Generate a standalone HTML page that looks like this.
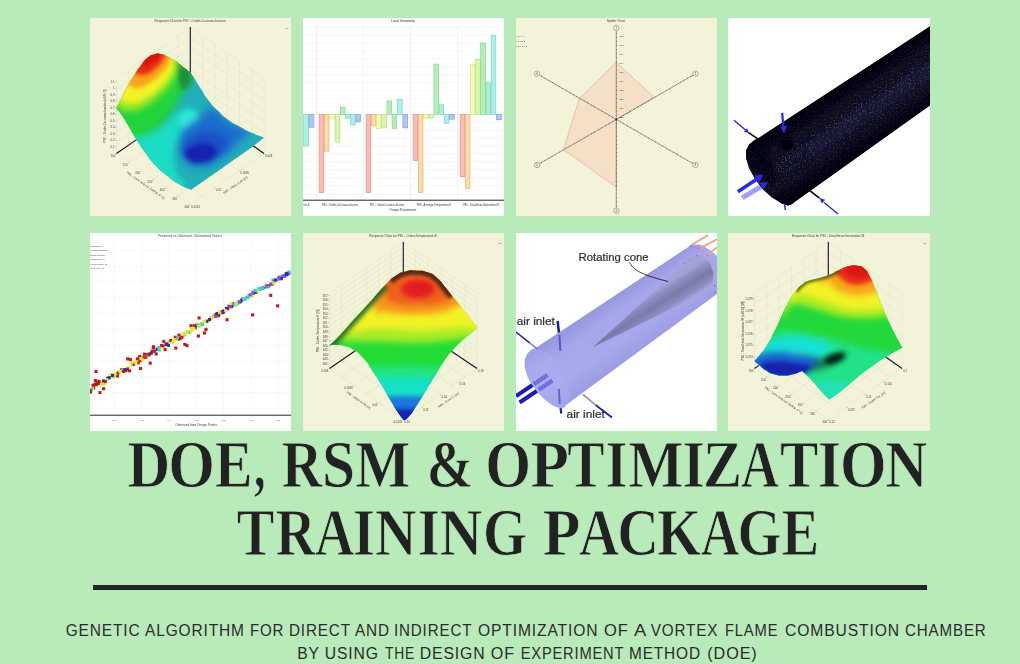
<!DOCTYPE html>
<html><head><meta charset="utf-8">
<style>
html,body{margin:0;padding:0}
body{width:1020px;height:664px;overflow:hidden;position:relative;background:#b9eab9;font-family:"Liberation Sans",sans-serif}
svg{position:absolute;display:block;overflow:hidden}
#main{left:0;top:0}
</style></head><body>
<svg style="left:90px;top:18px;background:#f3f3d9" width="201" height="198" viewBox="0 0 201 198">
<defs>
<clipPath id="c1"><path d="M26.4 90.2C27.8 87.5 27.1 88.9 30.5 82.2C33.9 75.6 32.1 78.2 36.5 70.2C40.9 62.2 38.9 65.8 43.7 58.1C48.6 50.5 46.1 53.6 51.0 47.3C55.8 41.0 53.8 43.0 58.2 39.3C62.6 35.7 60.2 37.6 64.2 36.5C68.2 35.3 66.2 35.5 70.2 36.0C74.3 36.5 71.8 36.0 76.3 37.9C80.7 39.8 78.3 38.4 83.5 41.8C88.7 45.1 86.3 43.8 91.9 48.0C97.6 52.3 97.6 52.4 100.4 54.5C102.0 56.9 101.6 56.1 105.2 61.8C108.8 67.4 106.8 64.6 111.2 71.4C115.6 78.2 112.8 75.0 118.4 82.2C124.1 89.5 121.6 86.7 128.1 93.1C134.5 99.5 130.5 96.3 137.7 101.5C144.9 106.7 141.7 104.3 149.8 108.7C157.8 113.2 153.6 111.2 161.8 114.8C170.0 118.4 170.2 118.0 174.3 119.6C169.4 123.4 170.8 122.6 159.4 130.9C148.0 139.2 153.0 135.3 140.1 144.4C127.3 153.5 133.9 149.0 120.8 158.1C107.8 167.3 107.7 167.3 101.1 171.9C97.2 170.1 97.4 171.2 89.5 166.6C81.6 162.0 85.5 164.6 77.5 158.1C69.4 151.7 72.7 154.9 65.4 147.3C58.2 139.7 62.2 144.1 55.8 135.3C49.4 126.4 52.2 130.4 46.1 120.8C40.1 111.2 42.5 114.4 37.7 106.3C32.9 98.3 35.5 102.1 31.7 96.7C27.9 91.3 28.2 92.4 26.4 90.2Z"/></clipPath>
<filter id="f1a" x="-50%" y="-50%" width="200%" height="200%"><feGaussianBlur stdDeviation="4.5"/></filter>
<filter id="f1b" x="-50%" y="-50%" width="200%" height="200%"><feGaussianBlur stdDeviation="3"/></filter>
<filter id="f1c" x="-50%" y="-50%" width="200%" height="200%"><feGaussianBlur stdDeviation="2.2"/></filter>
<filter id="f1d" x="-50%" y="-50%" width="200%" height="200%"><feGaussianBlur stdDeviation="1.5"/></filter>
<filter id="b1" x="-5%" y="-5%" width="110%" height="110%"><feGaussianBlur stdDeviation="0.35"/></filter>
</defs>
<g filter="url(#b1)">
<line x1="88.0" y1="17.5" x2="88.0" y2="92.8" stroke="#d6d6c2" stroke-width="0.35"/>
<line x1="112.6" y1="17.5" x2="112.6" y2="92.8" stroke="#d6d6c2" stroke-width="0.35"/>
<line x1="88.0" y1="92.8" x2="161.8" y2="144.0" stroke="#d6d6c2" stroke-width="0.35"/>
<line x1="112.6" y1="92.8" x2="38.8" y2="144.0" stroke="#d6d6c2" stroke-width="0.35"/>
<line x1="75.7" y1="26.1" x2="75.7" y2="101.4" stroke="#d6d6c2" stroke-width="0.35"/>
<line x1="124.9" y1="26.1" x2="124.9" y2="101.4" stroke="#d6d6c2" stroke-width="0.35"/>
<line x1="75.7" y1="101.4" x2="149.5" y2="152.6" stroke="#d6d6c2" stroke-width="0.35"/>
<line x1="124.9" y1="101.4" x2="51.1" y2="152.6" stroke="#d6d6c2" stroke-width="0.35"/>
<line x1="63.4" y1="34.6" x2="63.4" y2="109.9" stroke="#d6d6c2" stroke-width="0.35"/>
<line x1="137.2" y1="34.6" x2="137.2" y2="109.9" stroke="#d6d6c2" stroke-width="0.35"/>
<line x1="63.4" y1="109.9" x2="137.2" y2="161.1" stroke="#d6d6c2" stroke-width="0.35"/>
<line x1="137.2" y1="109.9" x2="63.4" y2="161.1" stroke="#d6d6c2" stroke-width="0.35"/>
<line x1="51.1" y1="43.1" x2="51.1" y2="118.4" stroke="#d6d6c2" stroke-width="0.35"/>
<line x1="149.5" y1="43.1" x2="149.5" y2="118.4" stroke="#d6d6c2" stroke-width="0.35"/>
<line x1="51.1" y1="118.4" x2="124.9" y2="169.6" stroke="#d6d6c2" stroke-width="0.35"/>
<line x1="149.5" y1="118.4" x2="75.7" y2="169.6" stroke="#d6d6c2" stroke-width="0.35"/>
<line x1="38.8" y1="51.7" x2="38.8" y2="127.0" stroke="#d6d6c2" stroke-width="0.35"/>
<line x1="161.8" y1="51.7" x2="161.8" y2="127.0" stroke="#d6d6c2" stroke-width="0.35"/>
<line x1="38.8" y1="127.0" x2="112.6" y2="178.2" stroke="#d6d6c2" stroke-width="0.35"/>
<line x1="161.8" y1="127.0" x2="88.0" y2="178.2" stroke="#d6d6c2" stroke-width="0.35"/>
<line x1="26.5" y1="60.2" x2="26.5" y2="135.5" stroke="#d6d6c2" stroke-width="0.35"/>
<line x1="174.1" y1="60.2" x2="174.1" y2="135.5" stroke="#d6d6c2" stroke-width="0.35"/>
<line x1="26.5" y1="135.5" x2="100.3" y2="186.7" stroke="#d6d6c2" stroke-width="0.35"/>
<line x1="174.1" y1="135.5" x2="100.3" y2="186.7" stroke="#d6d6c2" stroke-width="0.35"/>
<line x1="100.3" y1="9.0" x2="26.5" y2="60.2" stroke="#d6d6c2" stroke-width="0.35"/>
<line x1="100.3" y1="9.0" x2="174.1" y2="60.2" stroke="#d6d6c2" stroke-width="0.35"/>
<line x1="100.3" y1="19.8" x2="26.5" y2="71.0" stroke="#d6d6c2" stroke-width="0.35"/>
<line x1="100.3" y1="19.8" x2="174.1" y2="71.0" stroke="#d6d6c2" stroke-width="0.35"/>
<line x1="100.3" y1="30.5" x2="26.5" y2="81.7" stroke="#d6d6c2" stroke-width="0.35"/>
<line x1="100.3" y1="30.5" x2="174.1" y2="81.7" stroke="#d6d6c2" stroke-width="0.35"/>
<line x1="100.3" y1="41.3" x2="26.5" y2="92.5" stroke="#d6d6c2" stroke-width="0.35"/>
<line x1="100.3" y1="41.3" x2="174.1" y2="92.5" stroke="#d6d6c2" stroke-width="0.35"/>
<line x1="100.3" y1="52.0" x2="26.5" y2="103.2" stroke="#d6d6c2" stroke-width="0.35"/>
<line x1="100.3" y1="52.0" x2="174.1" y2="103.2" stroke="#d6d6c2" stroke-width="0.35"/>
<line x1="100.3" y1="62.8" x2="26.5" y2="114.0" stroke="#d6d6c2" stroke-width="0.35"/>
<line x1="100.3" y1="62.8" x2="174.1" y2="114.0" stroke="#d6d6c2" stroke-width="0.35"/>
<line x1="100.3" y1="73.5" x2="26.5" y2="124.7" stroke="#d6d6c2" stroke-width="0.35"/>
<line x1="100.3" y1="73.5" x2="174.1" y2="124.7" stroke="#d6d6c2" stroke-width="0.35"/>
<line x1="100.3" y1="84.3" x2="26.5" y2="135.5" stroke="#d6d6c2" stroke-width="0.35"/>
<line x1="100.3" y1="84.3" x2="174.1" y2="135.5" stroke="#d6d6c2" stroke-width="0.35"/>
<line x1="100.3" y1="9.0" x2="100.3" y2="55.0" stroke="#14142a" stroke-width="1.1"/>
<line x1="26.5" y1="135.5" x2="48.0" y2="120.6" stroke="#14142a" stroke-width="1.1"/>
<line x1="174.0" y1="135.5" x2="162.0" y2="127.0" stroke="#14142a" stroke-width="1.1"/>
<g clip-path="url(#c1)">
<rect x="0" y="0" width="201" height="198" fill="#22aeb8"/>
<path d="M34.1 113.6C40.5 107.1 44.5 114.4 58.2 111.2C71.8 107.9 64.6 110.4 75.1 103.9C85.5 97.5 80.3 96.3 89.5 91.9C98.8 87.5 96.7 87.5 102.8 90.7C108.8 93.9 109.6 93.5 107.6 101.5C105.6 109.6 104.0 105.1 96.7 114.8C89.5 124.4 89.5 118.0 85.9 130.4C82.3 142.9 83.1 139.3 85.9 152.1C88.7 165.0 99.6 164.2 94.3 169.0C89.1 173.8 88.7 179.4 70.2 166.6C51.8 153.7 51.0 148.1 38.9 130.4C26.9 112.8 27.7 120.0 34.1 113.6Z" fill="#1fdcc6" filter="url(#f1b)" opacity="1"/>
<path d="M90.7 99.1C92.7 94.7 92.7 95.1 98.0 94.3C103.2 93.5 103.2 93.1 106.4 96.7C109.6 100.3 109.6 100.7 107.6 105.1C105.6 109.6 105.6 109.1 100.4 110.0C95.1 110.8 95.1 111.2 91.9 107.5C88.7 103.9 88.7 103.5 90.7 99.1Z" fill="#34e6da" filter="url(#f1c)" opacity="1"/>
<path d="M90.7 120.8C91.9 110.4 91.1 116.0 98.0 108.7C104.8 101.5 104.4 105.1 111.2 99.1C118.0 93.1 112.8 92.3 118.4 90.7C124.1 89.1 120.8 89.5 128.1 94.3C135.3 99.1 130.5 98.7 140.1 105.1C149.8 111.6 154.6 106.7 157.0 113.6C159.4 120.4 156.6 116.4 147.3 125.6C138.1 134.9 141.7 133.6 129.3 141.3C116.8 148.9 121.6 148.9 110.0 148.5C98.4 148.1 100.8 149.3 94.3 140.1C87.9 130.8 89.5 131.2 90.7 120.8Z" fill="#1e6ccc" filter="url(#f1a)" opacity="1"/>
<path d="M94.3 128.0C97.1 121.6 95.9 123.2 104.0 118.4C112.0 113.6 108.8 113.6 118.4 113.6C128.1 113.6 127.3 113.6 132.9 118.4C138.5 123.2 138.5 120.8 135.3 128.0C132.1 135.3 132.9 134.9 123.3 140.1C113.6 145.3 115.6 144.5 106.4 143.7C97.1 142.9 99.6 142.9 95.5 137.7C91.5 132.4 91.5 134.4 94.3 128.0Z" fill="#1c50c4" filter="url(#f1b)" opacity="1"/>
<path d="M96.3 134.8C97.3 130.3 96.6 130.9 102.8 128.0C109.0 125.1 107.3 125.1 114.8 126.1C122.3 127.1 122.5 126.4 125.2 130.9C127.8 135.4 127.6 135.3 122.8 139.6C118.0 143.8 118.4 143.0 110.7 143.7C103.0 144.3 104.5 144.5 99.6 141.5C94.8 138.5 95.2 139.3 96.3 134.8Z" fill="#1424ae" filter="url(#f1c)" opacity="1"/>
<path d="M14.8 82.2C7.6 115.2 15.2 113.2 24.5 125.6C33.7 138.1 31.3 123.0 42.5 119.6C53.8 116.2 48.6 119.9 58.2 115.5C67.8 111.1 63.8 113.4 71.4 106.3C79.1 99.3 75.5 102.3 81.1 94.3C86.7 86.3 83.7 90.3 88.3 82.2C92.9 74.2 90.7 78.2 94.8 70.2C98.9 62.2 97.1 67.0 100.6 58.1C104.1 49.3 111.3 54.1 105.2 43.7C99.1 33.2 102.0 32.4 82.3 26.8C62.6 21.2 68.6 8.3 46.1 26.8C23.7 45.3 22.0 49.3 14.8 82.2Z" fill="#22d43a" filter="url(#f1a)" opacity="1"/>
<path d="M14.8 82.2C7.6 112.8 15.6 107.5 24.5 118.4C33.3 129.2 30.9 117.6 41.3 114.8C51.8 112.0 46.9 114.8 55.8 110.0C64.6 105.1 60.6 107.1 67.8 100.3C75.1 93.5 71.8 97.1 77.5 89.5C83.1 81.8 79.9 85.1 84.7 77.4C89.5 69.8 87.5 73.8 91.9 66.6C96.3 59.3 94.7 63.4 98.0 55.7C101.2 48.1 106.8 53.3 101.6 43.7C96.3 34.0 100.8 32.4 82.3 26.8C63.8 21.2 68.6 8.3 46.1 26.8C23.7 45.3 22.0 51.7 14.8 82.2Z" fill="#22d43a" filter="url(#f1c)" opacity="1"/>
<path d="M86.6 44.9C88.6 40.7 89.5 44.4 94.3 48.0C99.2 51.6 99.3 49.6 101.1 55.7C102.9 61.9 102.3 61.4 99.6 66.6C97.0 71.8 96.9 73.4 93.1 71.4C89.4 69.4 90.5 69.4 88.3 60.6C86.1 51.7 84.6 49.1 86.6 44.9Z" fill="#1e9238" filter="url(#f1c)" opacity="1"/>
<path d="M19.6 79.8C16.0 97.3 20.8 84.8 28.1 89.0C35.3 93.2 32.1 92.8 41.3 92.4C50.6 91.9 46.1 92.8 55.8 87.5C65.4 82.2 61.8 84.2 70.2 76.5C78.7 68.7 75.6 72.5 81.1 64.4C86.5 56.3 85.0 60.6 86.6 52.1C88.2 43.6 91.4 47.3 85.9 38.9C80.4 30.4 85.9 27.6 70.2 26.8C54.6 26.0 55.8 18.8 38.9 36.5C22.0 54.1 23.3 62.3 19.6 79.8Z" fill="#a4ea28" filter="url(#f1b)" opacity="1"/>
<path d="M24.5 75.0C23.7 85.3 25.3 78.7 31.7 81.8C38.1 84.8 35.3 85.1 43.7 84.2C52.2 83.2 48.6 83.7 57.0 78.9C65.4 74.0 61.8 76.5 69.0 69.7C76.3 63.0 74.0 66.1 78.7 58.6C83.3 51.2 82.6 55.5 83.0 47.3C83.4 39.1 88.2 40.1 79.9 34.0C71.6 28.0 73.5 23.6 58.2 29.2C42.9 34.9 45.3 35.7 34.1 50.9C22.9 66.2 25.3 64.7 24.5 75.0Z" fill="#f2f226" filter="url(#f1c)" opacity="1"/>
<path d="M34.1 63.0C33.7 70.2 34.9 65.5 40.1 67.8C45.3 70.0 42.8 71.1 49.8 69.7C56.7 68.3 53.9 68.5 61.1 63.7C68.3 58.9 65.6 61.4 71.4 55.3C77.3 49.1 76.7 52.4 78.7 45.4C80.7 38.3 84.3 39.4 77.5 34.0C70.6 28.7 70.2 25.2 58.2 29.2C46.1 33.2 49.4 34.9 41.3 46.1C33.3 57.3 34.5 55.7 34.1 63.0Z" fill="#f8a41e" filter="url(#f1c)" opacity="1"/>
<path d="M43.7 53.3C44.9 57.6 45.3 55.6 49.8 56.5C54.2 57.3 51.4 58.4 57.0 56.0C62.6 53.6 61.2 54.1 66.6 49.2C72.0 44.3 70.7 46.7 73.1 41.3C75.5 35.8 78.8 36.5 73.9 32.8C68.9 29.2 67.4 26.8 58.2 30.4C49.0 34.0 51.0 36.1 46.1 43.7C41.3 51.3 42.5 49.1 43.7 53.3Z" fill="#ea2a18" filter="url(#f1c)" opacity="1"/>
<path d="M53.4 48.0C54.6 51.1 56.6 48.5 61.8 45.6C67.0 42.7 67.0 43.2 69.0 39.3C71.0 35.5 71.4 35.0 67.8 34.0C64.2 33.1 63.0 31.8 58.2 36.5C53.4 41.1 52.2 45.0 53.4 48.0Z" fill="#d81410" filter="url(#f1d)" opacity="1"/>
</g>
<g style="font-family:'Liberation Sans'" fill="#3c3c3c">
<text x="100" y="4" font-size="3.2" text-anchor="middle">Response Chart for P87 - Outlet-Co-mass-fraction</text>
<text x="195.5" y="10.5" font-size="2.4">P8</text>
<text x="24.5" y="64.5" font-size="2.9" text-anchor="end">1.1</text>
<line x1="25.2" x2="26.5" y1="63.5" y2="63.5" stroke="#666" stroke-width="0.3"/>
<text x="24.5" y="71.0" font-size="2.9" text-anchor="end">1</text>
<line x1="25.2" x2="26.5" y1="70.0" y2="70.0" stroke="#666" stroke-width="0.3"/>
<text x="24.5" y="77.6" font-size="2.9" text-anchor="end">0.9</text>
<line x1="25.2" x2="26.5" y1="76.6" y2="76.6" stroke="#666" stroke-width="0.3"/>
<text x="24.5" y="84.1" font-size="2.9" text-anchor="end">0.8</text>
<line x1="25.2" x2="26.5" y1="83.1" y2="83.1" stroke="#666" stroke-width="0.3"/>
<text x="24.5" y="90.7" font-size="2.9" text-anchor="end">0.7</text>
<line x1="25.2" x2="26.5" y1="89.7" y2="89.7" stroke="#666" stroke-width="0.3"/>
<text x="24.5" y="97.2" font-size="2.9" text-anchor="end">0.6</text>
<line x1="25.2" x2="26.5" y1="96.2" y2="96.2" stroke="#666" stroke-width="0.3"/>
<text x="24.5" y="103.8" font-size="2.9" text-anchor="end">0.5</text>
<line x1="25.2" x2="26.5" y1="102.8" y2="102.8" stroke="#666" stroke-width="0.3"/>
<text x="24.5" y="110.3" font-size="2.9" text-anchor="end">0.4</text>
<line x1="25.2" x2="26.5" y1="109.3" y2="109.3" stroke="#666" stroke-width="0.3"/>
<text x="24.5" y="116.9" font-size="2.9" text-anchor="end">0.3</text>
<line x1="25.2" x2="26.5" y1="115.9" y2="115.9" stroke="#666" stroke-width="0.3"/>
<text x="24.5" y="123.4" font-size="2.9" text-anchor="end">0.2</text>
<line x1="25.2" x2="26.5" y1="122.4" y2="122.4" stroke="#666" stroke-width="0.3"/>
<text x="24.5" y="130.0" font-size="2.9" text-anchor="end">0.1</text>
<line x1="25.2" x2="26.5" y1="129.0" y2="129.0" stroke="#666" stroke-width="0.3"/>
<text transform="translate(15.5,98) rotate(-90)" font-size="3.1" text-anchor="middle">P87 - Outlet-Co-mass-fraction [x10^-7]</text>
<text x="25.3" y="139.1" font-size="2.8" text-anchor="end">100</text>
<line x1="26.5" y1="135.5" x2="25.5" y2="136.7" stroke="#666" stroke-width="0.3"/>
<text x="37.6" y="147.6" font-size="2.8" text-anchor="end">150</text>
<line x1="38.8" y1="144.0" x2="37.8" y2="145.2" stroke="#666" stroke-width="0.3"/>
<text x="49.9" y="156.2" font-size="2.8" text-anchor="end">200</text>
<line x1="51.1" y1="152.6" x2="50.1" y2="153.8" stroke="#666" stroke-width="0.3"/>
<text x="62.2" y="164.7" font-size="2.8" text-anchor="end">250</text>
<line x1="63.4" y1="161.1" x2="62.4" y2="162.3" stroke="#666" stroke-width="0.3"/>
<text x="74.5" y="173.2" font-size="2.8" text-anchor="end">300</text>
<line x1="75.7" y1="169.6" x2="74.7" y2="170.8" stroke="#666" stroke-width="0.3"/>
<text x="86.8" y="181.8" font-size="2.8" text-anchor="end">350</text>
<line x1="88.0" y1="178.2" x2="87.0" y2="179.4" stroke="#666" stroke-width="0.3"/>
<text x="99.1" y="190.3" font-size="2.8" text-anchor="end">400</text>
<line x1="100.3" y1="186.7" x2="99.3" y2="187.9" stroke="#666" stroke-width="0.3"/>
<text transform="translate(55,168) rotate(34.8)" font-size="3.1" text-anchor="middle">P81 - Cone Ang.vel. [radian s^-1]</text>
<text x="175.2" y="139.1" font-size="2.8">0.008</text>
<line x1="174.0" y1="135.5" x2="175.0" y2="136.7" stroke="#666" stroke-width="0.3"/>
<text x="150.6" y="156.2" font-size="2.8">0.0095</text>
<line x1="149.4" y1="152.6" x2="150.4" y2="153.8" stroke="#666" stroke-width="0.3"/>
<text x="126.0" y="173.2" font-size="2.8">0.01</text>
<line x1="124.8" y1="169.6" x2="125.8" y2="170.8" stroke="#666" stroke-width="0.3"/>
<text x="101.4" y="190.3" font-size="2.8">0.0105</text>
<line x1="100.2" y1="186.7" x2="101.2" y2="187.9" stroke="#666" stroke-width="0.3"/>
<text transform="translate(146,168) rotate(-34.8)" font-size="3.1" text-anchor="middle">P86 - offset in Air [m]</text>
</g>
</g>
</svg>
<svg style="left:303px;top:18px;background:#fff" width="201" height="198" viewBox="0 0 201 198">
<defs><filter id="b2" x="-5%" y="-5%" width="110%" height="110%"><feGaussianBlur stdDeviation="0.35"/></filter></defs>
<g filter="url(#b2)">
<line x1="0" x2="201" y1="9.04" y2="9.04" stroke="#e4e4e4" stroke-width="0.35"/>
<line x1="0" x2="201" y1="16.98" y2="16.98" stroke="#e4e4e4" stroke-width="0.35"/>
<line x1="0" x2="201" y1="24.92" y2="24.92" stroke="#e4e4e4" stroke-width="0.35"/>
<line x1="0" x2="201" y1="32.86" y2="32.86" stroke="#e4e4e4" stroke-width="0.35"/>
<line x1="0" x2="201" y1="40.80" y2="40.80" stroke="#e4e4e4" stroke-width="0.35"/>
<line x1="0" x2="201" y1="48.73" y2="48.73" stroke="#e4e4e4" stroke-width="0.35"/>
<line x1="0" x2="201" y1="56.67" y2="56.67" stroke="#e4e4e4" stroke-width="0.35"/>
<line x1="0" x2="201" y1="64.61" y2="64.61" stroke="#e4e4e4" stroke-width="0.35"/>
<line x1="0" x2="201" y1="72.55" y2="72.55" stroke="#e4e4e4" stroke-width="0.35"/>
<line x1="0" x2="201" y1="80.49" y2="80.49" stroke="#e4e4e4" stroke-width="0.35"/>
<line x1="0" x2="201" y1="88.43" y2="88.43" stroke="#e4e4e4" stroke-width="0.35"/>
<line x1="0" x2="201" y1="96.37" y2="96.37" stroke="#e4e4e4" stroke-width="0.35"/>
<line x1="0" x2="201" y1="104.31" y2="104.31" stroke="#e4e4e4" stroke-width="0.35"/>
<line x1="0" x2="201" y1="112.25" y2="112.25" stroke="#e4e4e4" stroke-width="0.35"/>
<line x1="0" x2="201" y1="120.19" y2="120.19" stroke="#e4e4e4" stroke-width="0.35"/>
<line x1="0" x2="201" y1="128.13" y2="128.13" stroke="#e4e4e4" stroke-width="0.35"/>
<line x1="0" x2="201" y1="136.07" y2="136.07" stroke="#e4e4e4" stroke-width="0.35"/>
<line x1="0" x2="201" y1="144.01" y2="144.01" stroke="#e4e4e4" stroke-width="0.35"/>
<line x1="0" x2="201" y1="151.95" y2="151.95" stroke="#e4e4e4" stroke-width="0.35"/>
<line x1="0" x2="201" y1="159.89" y2="159.89" stroke="#e4e4e4" stroke-width="0.35"/>
<line x1="0" x2="201" y1="167.83" y2="167.83" stroke="#e4e4e4" stroke-width="0.35"/>
<line x1="0" x2="201" y1="175.77" y2="175.77" stroke="#e4e4e4" stroke-width="0.35"/>
<line x1="13.55" x2="13.55" y1="8" y2="182" stroke="#dcdcdc" stroke-width="0.4"/>
<line x1="60.24" x2="60.24" y1="8" y2="182" stroke="#dcdcdc" stroke-width="0.4"/>
<line x1="107.53" x2="107.53" y1="8" y2="182" stroke="#dcdcdc" stroke-width="0.4"/>
<line x1="154.52" x2="154.52" y1="8" y2="182" stroke="#dcdcdc" stroke-width="0.4"/>
<rect x="0.20" y="96.39" width="5.32" height="31.63" fill="#acefe6" stroke="#6ad0c6" stroke-width="0.55"/>
<rect x="5.92" y="96.39" width="5.02" height="12.95" fill="#b0c6f1" stroke="#7292de" stroke-width="0.55"/>
<rect x="16.16" y="96.39" width="4.72" height="78.31" fill="#f7bcb2" stroke="#dc8878" stroke-width="0.55"/>
<rect x="21.28" y="96.39" width="4.72" height="36.75" fill="#f9dbac" stroke="#dfa868" stroke-width="0.55"/>
<rect x="26.40" y="96.39" width="5.32" height="4.52" fill="#f7f7ae" stroke="#d8d878" stroke-width="0.55"/>
<rect x="32.13" y="96.39" width="4.72" height="27.71" fill="#daf5ae" stroke="#a8d878" stroke-width="0.55"/>
<rect x="37.25" y="89.16" width="4.72" height="7.23" fill="#b2efb4" stroke="#78d088" stroke-width="0.55"/>
<rect x="42.37" y="96.39" width="4.72" height="3.92" fill="#aeefd0" stroke="#72d0a6" stroke-width="0.55"/>
<rect x="47.49" y="96.39" width="4.72" height="10.54" fill="#acefe6" stroke="#6ad0c6" stroke-width="0.55"/>
<rect x="52.91" y="96.39" width="4.72" height="7.53" fill="#b0c6f1" stroke="#7292de" stroke-width="0.55"/>
<rect x="63.15" y="96.39" width="4.72" height="78.31" fill="#f7bcb2" stroke="#dc8878" stroke-width="0.55"/>
<rect x="68.27" y="96.39" width="4.72" height="11.45" fill="#f9dbac" stroke="#dfa868" stroke-width="0.55"/>
<rect x="73.39" y="96.39" width="4.72" height="14.16" fill="#f7f7ae" stroke="#d8d878" stroke-width="0.55"/>
<rect x="78.51" y="96.39" width="5.02" height="13.55" fill="#daf5ae" stroke="#a8d878" stroke-width="0.55"/>
<rect x="83.93" y="82.83" width="4.72" height="13.55" fill="#b2efb4" stroke="#78d088" stroke-width="0.55"/>
<rect x="89.06" y="96.39" width="4.72" height="14.16" fill="#b2efb4" stroke="#78d088" stroke-width="0.55"/>
<rect x="94.18" y="81.33" width="5.02" height="15.06" fill="#acefe6" stroke="#6ad0c6" stroke-width="0.55"/>
<rect x="99.90" y="96.39" width="4.72" height="13.55" fill="#b0c6f1" stroke="#7292de" stroke-width="0.55"/>
<rect x="110.14" y="96.39" width="4.72" height="46.08" fill="#f7bcb2" stroke="#dc8878" stroke-width="0.55"/>
<rect x="115.26" y="96.39" width="4.72" height="78.31" fill="#f9dbac" stroke="#dfa868" stroke-width="0.55"/>
<rect x="120.38" y="96.39" width="5.02" height="3.92" fill="#f7f7ae" stroke="#d8d878" stroke-width="0.55"/>
<rect x="125.80" y="96.39" width="4.72" height="3.61" fill="#daf5ae" stroke="#a8d878" stroke-width="0.55"/>
<rect x="130.92" y="46.08" width="4.72" height="50.30" fill="#b2efb4" stroke="#78d088" stroke-width="0.55"/>
<rect x="136.04" y="86.75" width="4.72" height="9.64" fill="#aeefd0" stroke="#72d0a6" stroke-width="0.55"/>
<rect x="141.16" y="96.39" width="4.72" height="9.04" fill="#acefe6" stroke="#6ad0c6" stroke-width="0.55"/>
<rect x="146.59" y="96.39" width="4.72" height="4.82" fill="#b0c6f1" stroke="#7292de" stroke-width="0.55"/>
<rect x="157.13" y="96.39" width="4.72" height="62.35" fill="#f7bcb2" stroke="#dc8878" stroke-width="0.55"/>
<rect x="162.25" y="96.39" width="4.72" height="74.10" fill="#f9dbac" stroke="#dfa868" stroke-width="0.55"/>
<rect x="167.37" y="46.08" width="4.72" height="50.30" fill="#f7f7ae" stroke="#d8d878" stroke-width="0.55"/>
<rect x="172.49" y="41.27" width="4.72" height="55.12" fill="#daf5ae" stroke="#a8d878" stroke-width="0.55"/>
<rect x="177.61" y="25.00" width="5.02" height="71.39" fill="#b2efb4" stroke="#78d088" stroke-width="0.55"/>
<rect x="183.03" y="64.16" width="4.72" height="32.23" fill="#aeefd0" stroke="#72d0a6" stroke-width="0.55"/>
<rect x="188.15" y="17.17" width="4.72" height="79.22" fill="#acefe6" stroke="#6ad0c6" stroke-width="0.55"/>
<rect x="193.57" y="96.39" width="4.72" height="5.42" fill="#b0c6f1" stroke="#7292de" stroke-width="0.55"/>
<rect x="0" y="181.6" width="201" height="1.3" fill="#5a5a5a"/>
<g font-family="Liberation Sans" fill="#333" text-anchor="middle">
<text x="100" y="4.2" font-size="3.3">Local Sensitivity</text>
<text x="100" y="192.6" font-size="3.2">Output Parameters</text>
<text x="3" y="187.6" font-size="2.6">ture-K</text>
<text x="37" y="187.6" font-size="2.6">P84 - Outlet-Co2-mass-fraction</text>
<text x="84" y="187.6" font-size="2.6">P87 - Outlet-Co-mass-fraction</text>
<text x="131" y="187.6" font-size="2.6">P88 - Average-Temperature-K</text>
<text x="178" y="187.6" font-size="2.6">P85 - Total-Heat-Generation-W</text>
</g></g>
</svg>
<svg style="left:516px;top:18px;background:#f3f3d9" width="201" height="198" viewBox="0 0 201 198">
<defs><filter id="b3" x="-5%" y="-5%" width="110%" height="110%"><feGaussianBlur stdDeviation="0.3"/></filter></defs>
<g filter="url(#b3)">
<polygon points="100.30,44.28 137.95,79.22 100.30,101.51 100.30,169.28 47.59,131.63 63.25,80.72" fill="#f4e0c6" stroke="#d9938c" stroke-width="0.5"/>
<line x1="100.30" y1="101.51" x2="100.30" y2="12.65" stroke="#3a3030" stroke-width="0.45"/>
<line x1="100.30" y1="101.51" x2="100.30" y2="12.65" stroke="#222" stroke-width="0.9" stroke-dasharray="0.5 3.6"/>
<circle cx="100.30" cy="9.94" r="2.7" fill="#f3f3d9" stroke="#444" stroke-width="0.4"/>
<text x="100.30" y="10.84" font-size="2.6" text-anchor="middle" fill="#333" style="font-family:'Liberation Sans'">1</text>
<line x1="100.30" y1="101.51" x2="177.17" y2="57.08" stroke="#3a3030" stroke-width="0.45"/>
<line x1="100.30" y1="101.51" x2="177.17" y2="57.08" stroke="#222" stroke-width="0.9" stroke-dasharray="0.5 3.6"/>
<circle cx="179.52" cy="55.72" r="2.7" fill="#f3f3d9" stroke="#444" stroke-width="0.4"/>
<text x="179.52" y="56.62" font-size="2.6" text-anchor="middle" fill="#333" style="font-family:'Liberation Sans'">2</text>
<line x1="100.30" y1="101.51" x2="177.17" y2="145.64" stroke="#3a3030" stroke-width="0.45"/>
<line x1="100.30" y1="101.51" x2="177.17" y2="145.64" stroke="#222" stroke-width="0.9" stroke-dasharray="0.5 3.6"/>
<circle cx="179.52" cy="146.99" r="2.7" fill="#f3f3d9" stroke="#444" stroke-width="0.4"/>
<text x="179.52" y="147.89" font-size="2.6" text-anchor="middle" fill="#333" style="font-family:'Liberation Sans'">3</text>
<line x1="100.30" y1="101.51" x2="100.30" y2="190.06" stroke="#3a3030" stroke-width="0.45"/>
<line x1="100.30" y1="101.51" x2="100.30" y2="190.06" stroke="#222" stroke-width="0.9" stroke-dasharray="0.5 3.6"/>
<circle cx="100.30" cy="192.77" r="2.7" fill="#f3f3d9" stroke="#444" stroke-width="0.4"/>
<text x="100.30" y="193.67" font-size="2.6" text-anchor="middle" fill="#333" style="font-family:'Liberation Sans'">4</text>
<line x1="100.30" y1="101.51" x2="23.44" y2="145.64" stroke="#3a3030" stroke-width="0.45"/>
<line x1="100.30" y1="101.51" x2="23.44" y2="145.64" stroke="#222" stroke-width="0.9" stroke-dasharray="0.5 3.6"/>
<circle cx="21.08" cy="146.99" r="2.7" fill="#f3f3d9" stroke="#444" stroke-width="0.4"/>
<text x="21.08" y="147.89" font-size="2.6" text-anchor="middle" fill="#333" style="font-family:'Liberation Sans'">5</text>
<line x1="100.30" y1="101.51" x2="23.43" y2="57.08" stroke="#3a3030" stroke-width="0.45"/>
<line x1="100.30" y1="101.51" x2="23.43" y2="57.08" stroke="#222" stroke-width="0.9" stroke-dasharray="0.5 3.6"/>
<circle cx="21.08" cy="55.72" r="2.7" fill="#f3f3d9" stroke="#444" stroke-width="0.4"/>
<text x="21.08" y="56.62" font-size="2.6" text-anchor="middle" fill="#333" style="font-family:'Liberation Sans'">6</text>
<circle cx="100.30" cy="101.51" r="1" fill="#402020"/>
<g style="font-family:'Liberation Sans'" fill="#444">
<text x="100" y="3.8" font-size="3.3" text-anchor="middle">Spider Chart</text>
<text x="103.5" y="18.87" font-size="2.4">370</text>
<text x="103.5" y="27.91" font-size="2.4">368</text>
<text x="103.5" y="36.94" font-size="2.4">366</text>
<text x="103.5" y="45.98" font-size="2.4">364</text>
<text x="103.5" y="55.02" font-size="2.4">362</text>
<text x="103.5" y="64.05" font-size="2.4">360</text>
<text x="103.5" y="73.09" font-size="2.4">358</text>
<text x="103.5" y="82.13" font-size="2.4">356</text>
<text x="103.5" y="91.16" font-size="2.4">354</text>
<text x="103.5" y="100.20" font-size="2.4">352</text>
<text x="0" y="19.47" font-size="2.4">x 10^-3</text>
<text x="0" y="24.14" font-size="2.4">7 x 10^3</text>
<text x="0" y="28.81" font-size="2.4">7.5 x 10^3</text>
</g></g>
</svg>
<svg style="left:728px;top:18px;background:#fff" width="202" height="198" viewBox="0 0 202 198">
<defs>
<linearGradient id="g4" gradientUnits="userSpaceOnUse" x1="90" y1="80" x2="130" y2="140">
<stop offset="0" stop-color="#04030c"/><stop offset="0.2" stop-color="#0b0a1c"/><stop offset="0.5" stop-color="#131128"/><stop offset="0.8" stop-color="#0c0b1e"/><stop offset="1" stop-color="#04030c"/></linearGradient>
<linearGradient id="g4o" gradientUnits="userSpaceOnUse" x1="90" y1="80" x2="130" y2="140"><stop offset="0" stop-color="#04030c" stop-opacity="1"/><stop offset="0.3" stop-color="#06051a" stop-opacity="0.55"/><stop offset="0.5" stop-color="#0a0920" stop-opacity="0.1"/><stop offset="0.72" stop-color="#06051a" stop-opacity="0.55"/><stop offset="1" stop-color="#04030c" stop-opacity="1"/></linearGradient>
<pattern id="p4" width="1.7" height="1.7" patternUnits="userSpaceOnUse" patternTransform="rotate(-33)"><circle cx="0.5" cy="0.5" r="0.35" fill="#6a68b0"/></pattern>
<clipPath id="c4"><path d="M30.1 120.3C28.1 121.6 27.6 121.1 24.1 124.1C20.6 127.1 21.6 125.4 19.6 129.4C17.6 133.4 18.1 130.8 18.1 136.1C18.1 141.4 17.6 138.7 19.6 145.2C21.6 151.7 20.3 148.7 24.1 155.7C27.9 162.7 25.9 159.8 30.9 166.3C35.9 172.8 33.4 170.0 39.2 175.3C45.0 180.6 42.4 178.3 48.2 182.1C54.0 185.9 52.0 185.0 56.5 186.6C61.0 188.2 58.4 187.8 61.7 187.0C65.0 186.2 64.8 185.2 66.3 184.3L206 84.5 L206 5.7 Z"/></clipPath>
<filter id="b4" x="-5%" y="-5%" width="110%" height="110%"><feGaussianBlur stdDeviation="0.4"/></filter>
<filter id="f4" x="-50%" y="-50%" width="200%" height="200%"><feGaussianBlur stdDeviation="2.5"/></filter>
<filter id="f4b" x="-50%" y="-50%" width="200%" height="200%"><feGaussianBlur stdDeviation="1.2"/></filter>
<filter id="n4" x="0" y="0" width="100%" height="100%"><feTurbulence type="fractalNoise" baseFrequency="0.75" numOctaves="2" seed="4" result="t"/><feColorMatrix in="t" type="matrix" values="0 0 0 0 0.36  0 0 0 0 0.36  0 0 0 0 0.62  0 0 0 7 -3.9"/></filter>
</defs>
<g filter="url(#b4)">
<line x1="20.5" y1="114.6" x2="33.0" y2="123.0" stroke="#0c0c14" stroke-width="1.6" stroke-linecap="butt" opacity="1"/>
<line x1="79.0" y1="170.5" x2="91.5" y2="180.2" stroke="#0c0c14" stroke-width="1.6" stroke-linecap="butt" opacity="1"/>
<path d="M30.1 120.3C28.1 121.6 27.6 121.1 24.1 124.1C20.6 127.1 21.6 125.4 19.6 129.4C17.6 133.4 18.1 130.8 18.1 136.1C18.1 141.4 17.6 138.7 19.6 145.2C21.6 151.7 20.3 148.7 24.1 155.7C27.9 162.7 25.9 159.8 30.9 166.3C35.9 172.8 33.4 170.0 39.2 175.3C45.0 180.6 42.4 178.3 48.2 182.1C54.0 185.9 52.0 185.0 56.5 186.6C61.0 188.2 58.4 187.8 61.7 187.0C65.0 186.2 64.8 185.2 66.3 184.3L206 84.5 L206 5.7 Z" fill="url(#g4)"/>
<g clip-path="url(#c4)">
<polygon points="12,112 206,0 206,100 60,196" fill="#fff" filter="url(#n4)" opacity="0.42"/>
<path d="M30.1 120.3C28.1 121.6 27.6 121.1 24.1 124.1C20.6 127.1 21.6 125.4 19.6 129.4C17.6 133.4 18.1 130.8 18.1 136.1C18.1 141.4 17.6 138.7 19.6 145.2C21.6 151.7 20.3 148.7 24.1 155.7C27.9 162.7 25.9 159.8 30.9 166.3C35.9 172.8 33.4 170.0 39.2 175.3C45.0 180.6 42.4 178.3 48.2 182.1C54.0 185.9 52.0 185.0 56.5 186.6C61.0 188.2 58.4 187.8 61.7 187.0C65.0 186.2 64.8 185.2 66.3 184.3L206 84.5 L206 5.7 Z" fill="url(#g4o)"/>
<polygon points="75,128 206,40 206,62 85,145" fill="#2e2c54" opacity="0.22" filter="url(#f4)"/>
<ellipse cx="0" cy="0" rx="11" ry="17" transform="translate(38,152) rotate(-33)" fill="#030208" opacity="0.6" filter="url(#f4)"/>
<ellipse cx="58.7" cy="126.6" rx="6.2" ry="5.6" fill="#030208" opacity="0.95" filter="url(#f4b)"/>
</g>
<line x1="6.0" y1="102.3" x2="17.5" y2="112.0" stroke="#2c2ce4" stroke-width="1.5" stroke-linecap="butt" opacity="1"/>
<polygon points="21.4,115.3 15.9,113.7 18.9,110.2" fill="#2c2ce4"/>
<line x1="54.2" y1="94.9" x2="55.2" y2="108.0" stroke="#2c2ce4" stroke-width="2.3" stroke-linecap="butt" opacity="1"/>
<polygon points="56.2,115.5 52.0,108.4 59.0,107.7" fill="#2c2ce4"/>
<line x1="110.0" y1="196.0" x2="96.0" y2="184.5" stroke="#2c2ce4" stroke-width="1.5" stroke-linecap="butt" opacity="1"/>
<polygon points="91.3,180.0 97.2,181.7 93.9,185.5" fill="#2c2ce4"/>
<line x1="56.6" y1="186.6" x2="57.3" y2="192.0" stroke="#2c2ce4" stroke-width="1.5" stroke-linecap="butt" opacity="1"/>
<line x1="9.8" y1="173.8" x2="29.0" y2="161.0" stroke="#2c2ce4" stroke-width="3.6" stroke-linecap="butt" opacity="1"/>
<polygon points="35.5,156.6 31.2,164.5 26.5,157.6" fill="#2c2ce4"/>
<line x1="13.2" y1="178.1" x2="31.9" y2="166.9" stroke="#2c2ce4" stroke-width="0.55" stroke-linecap="butt" opacity="1"/>
<line x1="13.8" y1="179.0" x2="32.5" y2="167.8" stroke="#2c2ce4" stroke-width="0.55" stroke-linecap="butt" opacity="1"/>
<line x1="14.3" y1="179.8" x2="33.0" y2="168.6" stroke="#2c2ce4" stroke-width="0.55" stroke-linecap="butt" opacity="1"/>
<line x1="14.9" y1="180.6" x2="33.5" y2="169.4" stroke="#2c2ce4" stroke-width="0.55" stroke-linecap="butt" opacity="1"/>
<line x1="15.4" y1="181.5" x2="34.1" y2="170.3" stroke="#2c2ce4" stroke-width="0.55" stroke-linecap="butt" opacity="1"/>
<polygon points="40.0,164.0 35.6,171.2 31.6,164.7" fill="#2c2ce4"/>
</g>
</svg>
<svg style="left:90px;top:233px;background:#fff" width="201" height="198" viewBox="0 0 201 198">
<defs><filter id="b5" x="-5%" y="-5%" width="110%" height="110%"><feGaussianBlur stdDeviation="0.3"/></filter></defs>
<g filter="url(#b5)">
<line x1="24.10" x2="24.10" y1="6" y2="182" stroke="#dedede" stroke-width="0.4" stroke-dasharray="0.8 0.6"/>
<line x1="51.81" x2="51.81" y1="6" y2="182" stroke="#dedede" stroke-width="0.4" stroke-dasharray="0.8 0.6"/>
<line x1="78.92" x2="78.92" y1="6" y2="182" stroke="#dedede" stroke-width="0.4" stroke-dasharray="0.8 0.6"/>
<line x1="106.33" x2="106.33" y1="6" y2="182" stroke="#dedede" stroke-width="0.4" stroke-dasharray="0.8 0.6"/>
<line x1="133.43" x2="133.43" y1="6" y2="182" stroke="#dedede" stroke-width="0.4" stroke-dasharray="0.8 0.6"/>
<line x1="161.14" x2="161.14" y1="6" y2="182" stroke="#dedede" stroke-width="0.4" stroke-dasharray="0.8 0.6"/>
<line x1="188.25" x2="188.25" y1="6" y2="182" stroke="#dedede" stroke-width="0.4" stroke-dasharray="0.8 0.6"/>
<line x1="0" x2="201" y1="17.47" y2="17.47" stroke="#e2e2e2" stroke-width="0.4" stroke-dasharray="0.8 0.6"/>
<line x1="0" x2="201" y1="33.25" y2="33.25" stroke="#e2e2e2" stroke-width="0.4" stroke-dasharray="0.8 0.6"/>
<line x1="0" x2="201" y1="49.04" y2="49.04" stroke="#e2e2e2" stroke-width="0.4" stroke-dasharray="0.8 0.6"/>
<line x1="0" x2="201" y1="64.82" y2="64.82" stroke="#e2e2e2" stroke-width="0.4" stroke-dasharray="0.8 0.6"/>
<line x1="0" x2="201" y1="80.60" y2="80.60" stroke="#e2e2e2" stroke-width="0.4" stroke-dasharray="0.8 0.6"/>
<line x1="0" x2="201" y1="96.39" y2="96.39" stroke="#e2e2e2" stroke-width="0.4" stroke-dasharray="0.8 0.6"/>
<line x1="0" x2="201" y1="112.17" y2="112.17" stroke="#e2e2e2" stroke-width="0.4" stroke-dasharray="0.8 0.6"/>
<line x1="0" x2="201" y1="127.95" y2="127.95" stroke="#e2e2e2" stroke-width="0.4" stroke-dasharray="0.8 0.6"/>
<line x1="0" x2="201" y1="143.73" y2="143.73" stroke="#e2e2e2" stroke-width="0.4" stroke-dasharray="0.8 0.6"/>
<line x1="0" x2="201" y1="159.52" y2="159.52" stroke="#e2e2e2" stroke-width="0.4" stroke-dasharray="0.8 0.6"/>
<line x1="0" x2="201" y1="175.30" y2="175.30" stroke="#e2e2e2" stroke-width="0.4" stroke-dasharray="0.8 0.6"/>
<rect x="151.67" y="64.11" width="3.1" height="3.1" fill="#2230b4"/>
<rect x="186.47" y="43.89" width="3.1" height="3.1" fill="#2fd2d2"/>
<rect x="21.69" y="142.57" width="3.1" height="3.1" fill="#e6e62a"/>
<rect x="99.35" y="91.22" width="3.1" height="3.1" fill="#c01a1a"/>
<rect x="187.60" y="42.91" width="3.1" height="3.1" fill="#b040c8"/>
<rect x="47.90" y="124.21" width="3.1" height="3.1" fill="#2fd2d2"/>
<rect x="63.35" y="117.04" width="3.1" height="3.1" fill="#2fd2d2"/>
<rect x="25.35" y="139.08" width="3.1" height="3.1" fill="#2fd2d2"/>
<rect x="72.25" y="106.88" width="3.1" height="3.1" fill="#c01a1a"/>
<rect x="132.60" y="76.28" width="3.1" height="3.1" fill="#2230b4"/>
<rect x="41.17" y="130.20" width="3.1" height="3.1" fill="#2fd2d2"/>
<rect x="161.75" y="58.65" width="3.1" height="3.1" fill="#2230b4"/>
<rect x="46.68" y="128.28" width="3.1" height="3.1" fill="#c01a1a"/>
<rect x="106.88" y="101.46" width="3.1" height="3.1" fill="#c01a1a"/>
<rect x="193.10" y="41.41" width="3.1" height="3.1" fill="#2230b4"/>
<rect x="4.91" y="150.15" width="3.1" height="3.1" fill="#c01a1a"/>
<rect x="186.10" y="71.34" width="3.1" height="3.1" fill="#c01a1a"/>
<rect x="144.94" y="69.44" width="3.1" height="3.1" fill="#2fd2d2"/>
<rect x="36.69" y="132.92" width="3.1" height="3.1" fill="#e6e62a"/>
<rect x="189.74" y="42.96" width="3.1" height="3.1" fill="#2fd2d2"/>
<rect x="185.20" y="45.98" width="3.1" height="3.1" fill="#2fd2d2"/>
<rect x="157.42" y="61.02" width="3.1" height="3.1" fill="#2fd2d2"/>
<rect x="35.79" y="134.63" width="3.1" height="3.1" fill="#c01a1a"/>
<rect x="137.50" y="71.66" width="3.1" height="3.1" fill="#c01a1a"/>
<rect x="2.15" y="153.35" width="3.1" height="3.1" fill="#c01a1a"/>
<rect x="165.31" y="56.43" width="3.1" height="3.1" fill="#2fd2d2"/>
<rect x="136.27" y="74.22" width="3.1" height="3.1" fill="#c01a1a"/>
<rect x="119.33" y="83.62" width="3.1" height="3.1" fill="#b040c8"/>
<rect x="95.84" y="97.76" width="3.1" height="3.1" fill="#c01a1a"/>
<rect x="134.92" y="73.89" width="3.1" height="3.1" fill="#2230b4"/>
<rect x="181.42" y="45.38" width="3.1" height="3.1" fill="#2fd2d2"/>
<rect x="115.56" y="86.43" width="3.1" height="3.1" fill="#e6e62a"/>
<rect x="69.99" y="111.05" width="3.1" height="3.1" fill="#c01a1a"/>
<rect x="141.47" y="69.32" width="3.1" height="3.1" fill="#2230b4"/>
<rect x="76.84" y="110.83" width="3.1" height="3.1" fill="#2230b4"/>
<rect x="0.84" y="154.09" width="3.1" height="3.1" fill="#e6e62a"/>
<rect x="171.68" y="53.39" width="3.1" height="3.1" fill="#b040c8"/>
<rect x="139.60" y="69.35" width="3.1" height="3.1" fill="#e6e62a"/>
<rect x="8.39" y="158.09" width="3.1" height="3.1" fill="#c01a1a"/>
<rect x="83.82" y="102.70" width="3.1" height="3.1" fill="#c01a1a"/>
<rect x="194.23" y="39.58" width="3.1" height="3.1" fill="#b040c8"/>
<rect x="167.28" y="53.99" width="3.1" height="3.1" fill="#2fd2d2"/>
<rect x="59.86" y="118.47" width="3.1" height="3.1" fill="#2230b4"/>
<rect x="116.65" y="86.31" width="3.1" height="3.1" fill="#e6e62a"/>
<rect x="93.06" y="100.24" width="3.1" height="3.1" fill="#2fd2d2"/>
<rect x="168.77" y="55.03" width="3.1" height="3.1" fill="#2fd2d2"/>
<rect x="125.81" y="79.04" width="3.1" height="3.1" fill="#2230b4"/>
<rect x="77.65" y="106.80" width="3.1" height="3.1" fill="#e6e62a"/>
<rect x="18.66" y="141.20" width="3.1" height="3.1" fill="#e6e62a"/>
<rect x="171.64" y="53.04" width="3.1" height="3.1" fill="#2fd2d2"/>
<rect x="54.45" y="122.64" width="3.1" height="3.1" fill="#c01a1a"/>
<rect x="72.92" y="111.03" width="3.1" height="3.1" fill="#e6e62a"/>
<rect x="147.37" y="67.82" width="3.1" height="3.1" fill="#2fd2d2"/>
<rect x="173.45" y="52.50" width="3.1" height="3.1" fill="#b040c8"/>
<rect x="107.49" y="83.39" width="3.1" height="3.1" fill="#c01a1a"/>
<rect x="80.26" y="107.60" width="3.1" height="3.1" fill="#e6e62a"/>
<rect x="145.90" y="68.88" width="3.1" height="3.1" fill="#2fd2d2"/>
<rect x="176.16" y="50.94" width="3.1" height="3.1" fill="#2fd2d2"/>
<rect x="170.53" y="53.77" width="3.1" height="3.1" fill="#2fd2d2"/>
<rect x="119.58" y="83.63" width="3.1" height="3.1" fill="#e6e62a"/>
<rect x="65.54" y="114.66" width="3.1" height="3.1" fill="#2230b4"/>
<rect x="61.70" y="112.91" width="3.1" height="3.1" fill="#c01a1a"/>
<rect x="102.37" y="91.22" width="3.1" height="3.1" fill="#c01a1a"/>
<rect x="67.78" y="115.48" width="3.1" height="3.1" fill="#2fd2d2"/>
<rect x="3.87" y="146.04" width="3.1" height="3.1" fill="#c01a1a"/>
<rect x="155.63" y="63.14" width="3.1" height="3.1" fill="#e6e62a"/>
<rect x="178.94" y="49.84" width="3.1" height="3.1" fill="#e6e62a"/>
<rect x="131.50" y="78.09" width="3.1" height="3.1" fill="#2230b4"/>
<rect x="79.36" y="105.92" width="3.1" height="3.1" fill="#c01a1a"/>
<rect x="17.74" y="143.19" width="3.1" height="3.1" fill="#2230b4"/>
<rect x="29.94" y="135.24" width="3.1" height="3.1" fill="#c01a1a"/>
<rect x="177.24" y="51.30" width="3.1" height="3.1" fill="#2230b4"/>
<rect x="60.66" y="116.67" width="3.1" height="3.1" fill="#c01a1a"/>
<rect x="95.44" y="111.10" width="3.1" height="3.1" fill="#c01a1a"/>
<rect x="182.79" y="46.86" width="3.1" height="3.1" fill="#b040c8"/>
<rect x="176.43" y="52.42" width="3.1" height="3.1" fill="#2fd2d2"/>
<rect x="26.72" y="138.27" width="3.1" height="3.1" fill="#c01a1a"/>
<rect x="160.38" y="61.63" width="3.1" height="3.1" fill="#e6e62a"/>
<rect x="34.18" y="135.96" width="3.1" height="3.1" fill="#c01a1a"/>
<rect x="8.72" y="148.47" width="3.1" height="3.1" fill="#e6e62a"/>
<rect x="84.29" y="113.51" width="3.1" height="3.1" fill="#c01a1a"/>
<rect x="58.69" y="128.57" width="3.1" height="3.1" fill="#c01a1a"/>
<rect x="150.23" y="65.48" width="3.1" height="3.1" fill="#2230b4"/>
<rect x="128.27" y="79.82" width="3.1" height="3.1" fill="#2fd2d2"/>
<rect x="149.12" y="67.09" width="3.1" height="3.1" fill="#2230b4"/>
<rect x="197.25" y="38.99" width="3.1" height="3.1" fill="#b040c8"/>
<rect x="64.68" y="119.37" width="3.1" height="3.1" fill="#c01a1a"/>
<rect x="3.80" y="149.79" width="3.1" height="3.1" fill="#c01a1a"/>
<rect x="88.50" y="104.12" width="3.1" height="3.1" fill="#c01a1a"/>
<rect x="158.72" y="60.21" width="3.1" height="3.1" fill="#b040c8"/>
<rect x="55.65" y="119.98" width="3.1" height="3.1" fill="#c01a1a"/>
<rect x="184.49" y="45.96" width="3.1" height="3.1" fill="#e6e62a"/>
<rect x="187.76" y="42.65" width="3.1" height="3.1" fill="#b040c8"/>
<rect x="173.81" y="50.70" width="3.1" height="3.1" fill="#e6e62a"/>
<rect x="25.86" y="141.43" width="3.1" height="3.1" fill="#c01a1a"/>
<rect x="154.90" y="63.18" width="3.1" height="3.1" fill="#2fd2d2"/>
<rect x="161.49" y="57.71" width="3.1" height="3.1" fill="#b040c8"/>
<rect x="143.31" y="70.38" width="3.1" height="3.1" fill="#2fd2d2"/>
<rect x="48.71" y="126.23" width="3.1" height="3.1" fill="#c01a1a"/>
<rect x="62.02" y="112.21" width="3.1" height="3.1" fill="#c01a1a"/>
<rect x="42.08" y="129.55" width="3.1" height="3.1" fill="#c01a1a"/>
<rect x="43.47" y="127.75" width="3.1" height="3.1" fill="#e6e62a"/>
<rect x="31.38" y="134.91" width="3.1" height="3.1" fill="#2fd2d2"/>
<rect x="82.09" y="105.39" width="3.1" height="3.1" fill="#e6e62a"/>
<rect x="19.88" y="139.84" width="3.1" height="3.1" fill="#e6e62a"/>
<rect x="104.91" y="90.65" width="3.1" height="3.1" fill="#c01a1a"/>
<rect x="93.68" y="98.78" width="3.1" height="3.1" fill="#e6e62a"/>
<rect x="164.45" y="57.79" width="3.1" height="3.1" fill="#2230b4"/>
<rect x="39.69" y="129.25" width="3.1" height="3.1" fill="#e6e62a"/>
<rect x="100.13" y="94.46" width="3.1" height="3.1" fill="#e6e62a"/>
<rect x="109.16" y="90.26" width="3.1" height="3.1" fill="#c01a1a"/>
<rect x="-0.07" y="154.78" width="3.1" height="3.1" fill="#2fd2d2"/>
<rect x="23.49" y="139.75" width="3.1" height="3.1" fill="#e6e62a"/>
<rect x="114.41" y="94.84" width="3.1" height="3.1" fill="#c01a1a"/>
<rect x="140.18" y="72.08" width="3.1" height="3.1" fill="#2230b4"/>
<rect x="36.10" y="124.35" width="3.1" height="3.1" fill="#c01a1a"/>
<rect x="111.06" y="90.01" width="3.1" height="3.1" fill="#2fd2d2"/>
<rect x="58.05" y="119.44" width="3.1" height="3.1" fill="#2230b4"/>
<rect x="124.55" y="79.82" width="3.1" height="3.1" fill="#2230b4"/>
<rect x="33.25" y="135.14" width="3.1" height="3.1" fill="#2230b4"/>
<rect x="108.54" y="90.31" width="3.1" height="3.1" fill="#e6e62a"/>
<rect x="184.01" y="45.48" width="3.1" height="3.1" fill="#2230b4"/>
<rect x="106.19" y="90.52" width="3.1" height="3.1" fill="#2fd2d2"/>
<rect x="133.87" y="75.95" width="3.1" height="3.1" fill="#e6e62a"/>
<rect x="138.61" y="72.20" width="3.1" height="3.1" fill="#b040c8"/>
<rect x="131.02" y="77.11" width="3.1" height="3.1" fill="#2230b4"/>
<rect x="180.60" y="49.83" width="3.1" height="3.1" fill="#b040c8"/>
<rect x="166.54" y="56.78" width="3.1" height="3.1" fill="#e6e62a"/>
<rect x="192.23" y="41.38" width="3.1" height="3.1" fill="#2fd2d2"/>
<rect x="62.70" y="116.40" width="3.1" height="3.1" fill="#c01a1a"/>
<rect x="48.15" y="121.94" width="3.1" height="3.1" fill="#c01a1a"/>
<rect x="152.31" y="64.28" width="3.1" height="3.1" fill="#e6e62a"/>
<rect x="191.18" y="41.11" width="3.1" height="3.1" fill="#2fd2d2"/>
<rect x="81.34" y="107.80" width="3.1" height="3.1" fill="#e6e62a"/>
<rect x="74.60" y="109.79" width="3.1" height="3.1" fill="#2230b4"/>
<rect x="86.36" y="104.79" width="3.1" height="3.1" fill="#c01a1a"/>
<rect x="71.44" y="111.46" width="3.1" height="3.1" fill="#c01a1a"/>
<rect x="11.10" y="149.43" width="3.1" height="3.1" fill="#e6e62a"/>
<rect x="91.32" y="100.95" width="3.1" height="3.1" fill="#e6e62a"/>
<rect x="73.59" y="115.03" width="3.1" height="3.1" fill="#c01a1a"/>
<rect x="98.91" y="97.67" width="3.1" height="3.1" fill="#e6e62a"/>
<rect x="92.31" y="98.86" width="3.1" height="3.1" fill="#e6e62a"/>
<rect x="156.68" y="62.66" width="3.1" height="3.1" fill="#2fd2d2"/>
<rect x="170.34" y="53.36" width="3.1" height="3.1" fill="#2fd2d2"/>
<rect x="68.92" y="113.82" width="3.1" height="3.1" fill="#e6e62a"/>
<rect x="93.33" y="109.90" width="3.1" height="3.1" fill="#c01a1a"/>
<rect x="16.11" y="143.68" width="3.1" height="3.1" fill="#2230b4"/>
<rect x="126.83" y="81.15" width="3.1" height="3.1" fill="#c01a1a"/>
<rect x="191.22" y="41.89" width="3.1" height="3.1" fill="#b040c8"/>
<rect x="197.44" y="37.46" width="3.1" height="3.1" fill="#2fd2d2"/>
<rect x="9.76" y="147.85" width="3.1" height="3.1" fill="#e6e62a"/>
<rect x="110.48" y="89.12" width="3.1" height="3.1" fill="#2fd2d2"/>
<rect x="67.12" y="113.09" width="3.1" height="3.1" fill="#2fd2d2"/>
<rect x="112.27" y="87.08" width="3.1" height="3.1" fill="#e6e62a"/>
<rect x="6.75" y="148.87" width="3.1" height="3.1" fill="#c01a1a"/>
<rect x="175.06" y="51.36" width="3.1" height="3.1" fill="#b040c8"/>
<rect x="100.00" y="95.87" width="3.1" height="3.1" fill="#e6e62a"/>
<rect x="87.46" y="100.62" width="3.1" height="3.1" fill="#c01a1a"/>
<rect x="51.66" y="123.18" width="3.1" height="3.1" fill="#c01a1a"/>
<rect x="122.40" y="81.55" width="3.1" height="3.1" fill="#b040c8"/>
<rect x="147.78" y="67.27" width="3.1" height="3.1" fill="#b040c8"/>
<rect x="196.30" y="39.68" width="3.1" height="3.1" fill="#b040c8"/>
<rect x="52.87" y="119.64" width="3.1" height="3.1" fill="#c01a1a"/>
<rect x="129.75" y="77.37" width="3.1" height="3.1" fill="#c01a1a"/>
<rect x="11.99" y="146.43" width="3.1" height="3.1" fill="#2230b4"/>
<rect x="22.37" y="142.10" width="3.1" height="3.1" fill="#e6e62a"/>
<rect x="117.91" y="84.99" width="3.1" height="3.1" fill="#2230b4"/>
<rect x="135.50" y="85.20" width="3.1" height="3.1" fill="#c01a1a"/>
<rect x="96.84" y="97.82" width="3.1" height="3.1" fill="#2fd2d2"/>
<rect x="103.86" y="93.21" width="3.1" height="3.1" fill="#2230b4"/>
<rect x="56.60" y="121.01" width="3.1" height="3.1" fill="#e6e62a"/>
<rect x="153.48" y="64.88" width="3.1" height="3.1" fill="#2fd2d2"/>
<rect x="32.08" y="136.85" width="3.1" height="3.1" fill="#c01a1a"/>
<rect x="115.17" y="86.80" width="3.1" height="3.1" fill="#2230b4"/>
<rect x="95.68" y="98.15" width="3.1" height="3.1" fill="#e6e62a"/>
<rect x="189.81" y="44.09" width="3.1" height="3.1" fill="#2230b4"/>
<rect x="75.51" y="109.38" width="3.1" height="3.1" fill="#2230b4"/>
<rect x="161.10" y="80.38" width="3.1" height="3.1" fill="#c01a1a"/>
<rect x="-1.20" y="157.55" width="3.1" height="3.1" fill="#c01a1a"/>
<rect x="28.54" y="137.27" width="3.1" height="3.1" fill="#e6e62a"/>
<rect x="45.78" y="124.33" width="3.1" height="3.1" fill="#c01a1a"/>
<rect x="121.65" y="82.39" width="3.1" height="3.1" fill="#e6e62a"/>
<rect x="179.17" y="60.80" width="3.1" height="3.1" fill="#c01a1a"/>
<rect x="101.38" y="93.69" width="3.1" height="3.1" fill="#e6e62a"/>
<rect x="102.53" y="94.15" width="3.1" height="3.1" fill="#e6e62a"/>
<rect x="179.17" y="49.96" width="3.1" height="3.1" fill="#b040c8"/>
<rect x="-0.95" y="156.58" width="3.1" height="3.1" fill="#c01a1a"/>
<rect x="84.93" y="105.01" width="3.1" height="3.1" fill="#e6e62a"/>
<rect x="7.50" y="146.68" width="3.1" height="3.1" fill="#c01a1a"/>
<rect x="128.06" y="77.71" width="3.1" height="3.1" fill="#e6e62a"/>
<rect x="144.37" y="69.27" width="3.1" height="3.1" fill="#e6e62a"/>
<rect x="179.82" y="49.35" width="3.1" height="3.1" fill="#b040c8"/>
<rect x="112.91" y="98.45" width="3.1" height="3.1" fill="#c01a1a"/>
<rect x="50.83" y="125.28" width="3.1" height="3.1" fill="#e6e62a"/>
<rect x="90.33" y="102.77" width="3.1" height="3.1" fill="#c01a1a"/>
<rect x="44.42" y="128.26" width="3.1" height="3.1" fill="#e6e62a"/>
<rect x="21.03" y="140.92" width="3.1" height="3.1" fill="#2230b4"/>
<rect x="28.72" y="136.58" width="3.1" height="3.1" fill="#e6e62a"/>
<rect x="187.61" y="44.40" width="3.1" height="3.1" fill="#b040c8"/>
<rect x="85.70" y="103.46" width="3.1" height="3.1" fill="#2fd2d2"/>
<rect x="195.24" y="38.80" width="3.1" height="3.1" fill="#2230b4"/>
<rect x="123.84" y="82.03" width="3.1" height="3.1" fill="#b040c8"/>
<rect x="4.47" y="137.00" width="3.1" height="3.1" fill="#c01a1a"/>
<rect x="49.47" y="123.96" width="3.1" height="3.1" fill="#e6e62a"/>
<rect x="15.27" y="145.10" width="3.1" height="3.1" fill="#e6e62a"/>
<rect x="194.58" y="40.25" width="3.1" height="3.1" fill="#2230b4"/>
<rect x="49.05" y="133.99" width="3.1" height="3.1" fill="#c01a1a"/>
<rect x="1.46" y="150.56" width="3.1" height="3.1" fill="#c01a1a"/>
<rect x="38.02" y="136.26" width="3.1" height="3.1" fill="#c01a1a"/>
<rect x="12.00" y="154.17" width="3.1" height="3.1" fill="#c01a1a"/>
<rect x="5.25" y="148.30" width="3.1" height="3.1" fill="#c01a1a"/>
<rect x="57.33" y="120.26" width="3.1" height="3.1" fill="#c01a1a"/>
<rect x="12.63" y="149.62" width="3.1" height="3.1" fill="#e6e62a"/>
<rect x="107.61" y="91.92" width="3.1" height="3.1" fill="#e6e62a"/>
<rect x="38.95" y="125.11" width="3.1" height="3.1" fill="#c01a1a"/>
<rect x="163.44" y="55.86" width="3.1" height="3.1" fill="#2fd2d2"/>
<rect x="13.75" y="147.03" width="3.1" height="3.1" fill="#c01a1a"/>
<rect x="182.40" y="48.61" width="3.1" height="3.1" fill="#e6e62a"/>
<rect x="113.09" y="86.96" width="3.1" height="3.1" fill="#e6e62a"/>
<rect x="0" y="181.6" width="201" height="1.3" fill="#5a5a5a"/>
<g style="font-family:'Liberation Sans'" fill="#444">
<text x="100" y="4.2" font-size="3.3" text-anchor="middle">Predicted vs Observed - Normalized Values</text>
<text x="106" y="192.6" font-size="3.2" text-anchor="middle">Observed from Design Points</text>
<text x="24.10" y="187.6" font-size="2.5" text-anchor="middle">0.2</text>
<text x="51.81" y="187.6" font-size="2.5" text-anchor="middle">0.3</text>
<text x="78.92" y="187.6" font-size="2.5" text-anchor="middle">0.4</text>
<text x="106.33" y="187.6" font-size="2.5" text-anchor="middle">0.5</text>
<text x="133.43" y="187.6" font-size="2.5" text-anchor="middle">0.6</text>
<text x="161.14" y="187.6" font-size="2.5" text-anchor="middle">0.7</text>
<text x="188.25" y="187.6" font-size="2.5" text-anchor="middle">0.8</text>
<text x="0" y="13.75" font-size="2.5">nperature-K</text>
<text x="0" y="18.27" font-size="2.5">o-mass-fraction</text>
<text x="0" y="22.79" font-size="2.5">mass-fraction</text>
<text x="0" y="27.31" font-size="2.5">emperature-K</text>
<text x="0" y="31.82" font-size="2.5">t-Generation-W</text>
<text x="0" y="36.34" font-size="2.5">Heat-Flux-W</text>
</g></g>
</svg>
<svg style="left:303px;top:233px;background:#f3f3d9" width="201" height="198" viewBox="0 0 201 198">
<defs>
<clipPath id="c6"><path d="M26.4 112.4C29.0 110.0 27.5 112.0 34.1 105.1C40.7 98.3 38.1 100.7 46.1 91.9C54.2 83.0 50.2 87.5 58.2 78.6C66.2 69.8 62.2 74.2 70.2 65.4C78.3 56.5 74.7 59.8 82.3 52.1C89.9 44.5 86.3 47.1 93.1 42.5C100.0 37.9 95.9 40.0 102.8 38.4C109.6 36.8 106.4 37.3 113.6 37.7C120.8 38.0 117.6 36.9 124.5 39.3C131.3 41.8 128.1 39.8 134.1 44.9C140.1 50.0 136.5 47.3 142.5 54.5C148.6 61.8 145.7 58.5 152.2 66.6C158.6 74.6 155.8 71.0 161.8 78.6C167.8 86.3 166.1 84.1 170.2 89.5C174.4 94.9 173.0 93.0 174.3 94.8C172.6 96.4 174.0 95.3 169.0 99.6C164.1 103.8 165.8 101.7 159.4 107.5C153.0 113.4 155.8 110.4 149.8 117.2C143.7 124.0 146.9 120.0 141.3 128.0C135.7 136.1 138.9 131.6 132.9 141.3C126.9 150.9 129.7 146.5 123.3 156.9C116.8 167.4 119.2 163.9 113.6 172.6C108.0 181.3 110.6 178.1 106.4 183.0C102.1 187.9 102.7 185.9 100.8 187.3C98.7 184.4 98.9 185.5 94.3 178.6C89.8 171.7 92.3 175.4 87.1 166.6C81.9 157.7 84.3 161.4 78.7 152.1C73.1 142.9 76.3 147.7 70.2 138.9C64.2 130.0 67.0 132.8 60.6 125.6C54.2 118.4 57.4 121.4 51.0 117.2C44.5 113.0 47.3 114.9 41.3 113.1C35.3 111.3 37.9 112.1 32.9 111.9C27.9 111.6 28.6 112.2 26.4 112.4Z"/></clipPath>
<filter id="f6a" x="-50%" y="-50%" width="200%" height="200%"><feGaussianBlur stdDeviation="4.5"/></filter>
<filter id="f6b" x="-50%" y="-50%" width="200%" height="200%"><feGaussianBlur stdDeviation="3"/></filter>
<filter id="f6c" x="-50%" y="-50%" width="200%" height="200%"><feGaussianBlur stdDeviation="2.2"/></filter>
<filter id="f6d" x="-50%" y="-50%" width="200%" height="200%"><feGaussianBlur stdDeviation="1.5"/></filter>
<filter id="b6" x="-5%" y="-5%" width="110%" height="110%"><feGaussianBlur stdDeviation="0.35"/></filter>
</defs>
<g filter="url(#b6)">
<line x1="88.0" y1="17.5" x2="88.0" y2="92.8" stroke="#d6d6c2" stroke-width="0.35"/>
<line x1="112.6" y1="17.5" x2="112.6" y2="92.8" stroke="#d6d6c2" stroke-width="0.35"/>
<line x1="88.0" y1="92.8" x2="161.8" y2="144.0" stroke="#d6d6c2" stroke-width="0.35"/>
<line x1="112.6" y1="92.8" x2="38.8" y2="144.0" stroke="#d6d6c2" stroke-width="0.35"/>
<line x1="75.7" y1="26.1" x2="75.7" y2="101.4" stroke="#d6d6c2" stroke-width="0.35"/>
<line x1="124.9" y1="26.1" x2="124.9" y2="101.4" stroke="#d6d6c2" stroke-width="0.35"/>
<line x1="75.7" y1="101.4" x2="149.5" y2="152.6" stroke="#d6d6c2" stroke-width="0.35"/>
<line x1="124.9" y1="101.4" x2="51.1" y2="152.6" stroke="#d6d6c2" stroke-width="0.35"/>
<line x1="63.4" y1="34.6" x2="63.4" y2="109.9" stroke="#d6d6c2" stroke-width="0.35"/>
<line x1="137.2" y1="34.6" x2="137.2" y2="109.9" stroke="#d6d6c2" stroke-width="0.35"/>
<line x1="63.4" y1="109.9" x2="137.2" y2="161.1" stroke="#d6d6c2" stroke-width="0.35"/>
<line x1="137.2" y1="109.9" x2="63.4" y2="161.1" stroke="#d6d6c2" stroke-width="0.35"/>
<line x1="51.1" y1="43.1" x2="51.1" y2="118.4" stroke="#d6d6c2" stroke-width="0.35"/>
<line x1="149.5" y1="43.1" x2="149.5" y2="118.4" stroke="#d6d6c2" stroke-width="0.35"/>
<line x1="51.1" y1="118.4" x2="124.9" y2="169.6" stroke="#d6d6c2" stroke-width="0.35"/>
<line x1="149.5" y1="118.4" x2="75.7" y2="169.6" stroke="#d6d6c2" stroke-width="0.35"/>
<line x1="38.8" y1="51.7" x2="38.8" y2="127.0" stroke="#d6d6c2" stroke-width="0.35"/>
<line x1="161.8" y1="51.7" x2="161.8" y2="127.0" stroke="#d6d6c2" stroke-width="0.35"/>
<line x1="38.8" y1="127.0" x2="112.6" y2="178.2" stroke="#d6d6c2" stroke-width="0.35"/>
<line x1="161.8" y1="127.0" x2="88.0" y2="178.2" stroke="#d6d6c2" stroke-width="0.35"/>
<line x1="26.5" y1="60.2" x2="26.5" y2="135.5" stroke="#d6d6c2" stroke-width="0.35"/>
<line x1="174.1" y1="60.2" x2="174.1" y2="135.5" stroke="#d6d6c2" stroke-width="0.35"/>
<line x1="26.5" y1="135.5" x2="100.3" y2="186.7" stroke="#d6d6c2" stroke-width="0.35"/>
<line x1="174.1" y1="135.5" x2="100.3" y2="186.7" stroke="#d6d6c2" stroke-width="0.35"/>
<line x1="100.3" y1="9.0" x2="26.5" y2="60.2" stroke="#d6d6c2" stroke-width="0.35"/>
<line x1="100.3" y1="9.0" x2="174.1" y2="60.2" stroke="#d6d6c2" stroke-width="0.35"/>
<line x1="100.3" y1="14.4" x2="26.5" y2="65.6" stroke="#d6d6c2" stroke-width="0.35"/>
<line x1="100.3" y1="14.4" x2="174.1" y2="65.6" stroke="#d6d6c2" stroke-width="0.35"/>
<line x1="100.3" y1="19.8" x2="26.5" y2="71.0" stroke="#d6d6c2" stroke-width="0.35"/>
<line x1="100.3" y1="19.8" x2="174.1" y2="71.0" stroke="#d6d6c2" stroke-width="0.35"/>
<line x1="100.3" y1="25.1" x2="26.5" y2="76.3" stroke="#d6d6c2" stroke-width="0.35"/>
<line x1="100.3" y1="25.1" x2="174.1" y2="76.3" stroke="#d6d6c2" stroke-width="0.35"/>
<line x1="100.3" y1="30.5" x2="26.5" y2="81.7" stroke="#d6d6c2" stroke-width="0.35"/>
<line x1="100.3" y1="30.5" x2="174.1" y2="81.7" stroke="#d6d6c2" stroke-width="0.35"/>
<line x1="100.3" y1="35.9" x2="26.5" y2="87.1" stroke="#d6d6c2" stroke-width="0.35"/>
<line x1="100.3" y1="35.9" x2="174.1" y2="87.1" stroke="#d6d6c2" stroke-width="0.35"/>
<line x1="100.3" y1="41.3" x2="26.5" y2="92.5" stroke="#d6d6c2" stroke-width="0.35"/>
<line x1="100.3" y1="41.3" x2="174.1" y2="92.5" stroke="#d6d6c2" stroke-width="0.35"/>
<line x1="100.3" y1="46.6" x2="26.5" y2="97.8" stroke="#d6d6c2" stroke-width="0.35"/>
<line x1="100.3" y1="46.6" x2="174.1" y2="97.8" stroke="#d6d6c2" stroke-width="0.35"/>
<line x1="100.3" y1="52.0" x2="26.5" y2="103.2" stroke="#d6d6c2" stroke-width="0.35"/>
<line x1="100.3" y1="52.0" x2="174.1" y2="103.2" stroke="#d6d6c2" stroke-width="0.35"/>
<line x1="100.3" y1="57.4" x2="26.5" y2="108.6" stroke="#d6d6c2" stroke-width="0.35"/>
<line x1="100.3" y1="57.4" x2="174.1" y2="108.6" stroke="#d6d6c2" stroke-width="0.35"/>
<line x1="100.3" y1="62.8" x2="26.5" y2="114.0" stroke="#d6d6c2" stroke-width="0.35"/>
<line x1="100.3" y1="62.8" x2="174.1" y2="114.0" stroke="#d6d6c2" stroke-width="0.35"/>
<line x1="100.3" y1="68.2" x2="26.5" y2="119.4" stroke="#d6d6c2" stroke-width="0.35"/>
<line x1="100.3" y1="68.2" x2="174.1" y2="119.4" stroke="#d6d6c2" stroke-width="0.35"/>
<line x1="100.3" y1="73.5" x2="26.5" y2="124.7" stroke="#d6d6c2" stroke-width="0.35"/>
<line x1="100.3" y1="73.5" x2="174.1" y2="124.7" stroke="#d6d6c2" stroke-width="0.35"/>
<line x1="100.3" y1="78.9" x2="26.5" y2="130.1" stroke="#d6d6c2" stroke-width="0.35"/>
<line x1="100.3" y1="78.9" x2="174.1" y2="130.1" stroke="#d6d6c2" stroke-width="0.35"/>
<line x1="100.3" y1="84.3" x2="26.5" y2="135.5" stroke="#d6d6c2" stroke-width="0.35"/>
<line x1="100.3" y1="84.3" x2="174.1" y2="135.5" stroke="#d6d6c2" stroke-width="0.35"/>
<line x1="100.3" y1="9.0" x2="100.3" y2="40.0" stroke="#14142a" stroke-width="1.1"/>
<line x1="26.5" y1="135.5" x2="52.0" y2="118.0" stroke="#14142a" stroke-width="1.1"/>
<line x1="174.0" y1="135.5" x2="148.0" y2="118.0" stroke="#14142a" stroke-width="1.1"/>
<g clip-path="url(#c6)">
<rect x="0" y="0" width="201" height="198" fill="#22dc36"/>
<polygon points="46.1,135.3 100.8,131.6 154.6,135.3 154.6,205.1 46.1,205.1" fill="#20e47c" filter="url(#f6b)" opacity="1"/>
<polygon points="46.1,146.1 100.8,143.7 154.6,146.1 154.6,205.1 46.1,205.1" fill="#18e0c8" filter="url(#f6b)" opacity="1"/>
<polygon points="46.1,164.2 100.8,163.0 154.6,164.2 154.6,205.1 46.1,205.1" fill="#1c78dc" filter="url(#f6c)" opacity="1"/>
<polygon points="46.1,176.2 100.8,176.2 154.6,176.2 154.6,205.1 46.1,205.1" fill="#1424b4" filter="url(#f6c)" opacity="1"/>
<path d="M10.0 99.1C18.0 127.4 18.0 103.8 34.1 106.8C50.2 109.9 39.7 107.5 58.2 108.3C76.7 109.1 71.0 108.7 89.5 109.2C108.0 109.7 97.6 110.0 113.6 109.7C129.7 109.4 122.4 109.7 137.7 108.3C153.0 106.8 140.9 108.8 159.4 105.4C177.9 101.9 181.9 125.7 193.1 97.9C204.4 70.1 254.2 47.3 193.1 22.0C132.1 -3.3 71.0 -3.7 10.0 22.0C-51.0 47.7 2.0 70.8 10.0 99.1Z" fill="#a8ec28" filter="url(#f6b)" opacity="1"/>
<path d="M24.5 91.9C36.5 117.4 32.5 97.2 46.1 98.6C59.8 100.1 51.0 97.0 65.4 96.2C79.9 95.4 73.5 95.9 89.5 96.2C105.6 96.5 97.6 97.2 113.6 97.2C129.7 97.2 122.4 97.2 137.7 96.2C153.0 95.3 140.9 96.5 159.4 94.3C177.9 92.0 181.9 113.6 193.1 89.5C204.4 65.4 254.2 44.5 193.1 22.0C132.1 -0.5 66.2 -1.3 10.0 22.0C-46.2 45.3 12.4 66.3 24.5 91.9Z" fill="#f2f226" filter="url(#f6b)" opacity="1"/>
<path d="M71.4 73.8C75.5 89.6 74.7 76.5 82.3 78.9C89.9 81.2 83.9 80.0 94.3 80.8C104.8 81.6 100.0 81.6 113.6 81.3C127.3 81.0 122.9 82.1 135.3 79.8C147.8 77.6 142.1 79.3 151.0 74.5C159.8 69.7 156.6 78.1 161.8 65.4C167.0 52.7 197.1 47.7 166.6 36.5C136.1 25.2 102.0 19.2 70.2 31.6C38.5 44.1 67.4 58.1 71.4 73.8Z" fill="#f59a1e" filter="url(#f6b)" opacity="1"/>
<path d="M83.5 63.0C86.3 74.9 81.5 66.7 91.9 69.7C102.4 72.8 99.6 72.1 114.8 72.1C130.1 72.1 126.9 73.2 137.7 69.7C148.6 66.3 144.1 73.6 147.3 61.8C150.6 49.9 168.6 43.3 147.3 34.0C126.1 24.8 104.8 24.4 83.5 34.0C62.2 43.7 80.7 51.1 83.5 63.0Z" fill="#ee5e1c" filter="url(#f6b)" opacity="1"/>
<ellipse cx="115.1" cy="55.7" rx="17" ry="9.5" fill="#e62420" filter="url(#f6c)"/>
<ellipse cx="115.5" cy="55.3" rx="10" ry="5" fill="#e01c1c" filter="url(#f6d)"/>
<path d="M87.1 47.3C89.1 45.7 87.9 45.5 93.1 42.5C98.4 39.5 95.9 40.0 102.8 38.4C109.6 36.8 106.4 37.3 113.6 37.7C120.8 38.0 117.6 36.9 124.5 39.3C131.3 41.8 128.1 39.8 134.1 44.9C140.1 50.0 137.3 48.5 142.5 54.5C147.8 60.6 147.3 60.2 149.8 63.0" fill="none" stroke="#4a2418" stroke-width="9" filter="url(#f6d)" opacity="0.9"/>
<path d="M24.5 114.3C27.7 111.2 26.9 112.6 34.1 105.1C41.3 97.7 38.1 100.7 46.1 91.9C54.2 83.0 50.2 87.5 58.2 78.6C66.2 69.8 62.2 74.2 70.2 65.4C78.3 56.5 78.3 56.5 82.3 52.1" fill="none" stroke="#176428" stroke-width="8" filter="url(#f6c)" opacity="0.9"/>
</g>
<g style="font-family:'Liberation Sans'" fill="#3c3c3c">
<text x="100" y="4" font-size="3.2" text-anchor="middle">Response Chart for P85 - Outlet-Temperature-K</text>
<text x="195.5" y="10.5" font-size="2.4">P8</text>
<text x="24.5" y="63.5" font-size="2.9" text-anchor="end">357</text>
<line x1="25.2" x2="26.5" y1="62.5" y2="62.5" stroke="#666" stroke-width="0.3"/>
<text x="24.5" y="68.0" font-size="2.9" text-anchor="end">356</text>
<line x1="25.2" x2="26.5" y1="67.0" y2="67.0" stroke="#666" stroke-width="0.3"/>
<text x="24.5" y="72.6" font-size="2.9" text-anchor="end">355</text>
<line x1="25.2" x2="26.5" y1="71.6" y2="71.6" stroke="#666" stroke-width="0.3"/>
<text x="24.5" y="77.2" font-size="2.9" text-anchor="end">354</text>
<line x1="25.2" x2="26.5" y1="76.2" y2="76.2" stroke="#666" stroke-width="0.3"/>
<text x="24.5" y="81.7" font-size="2.9" text-anchor="end">353</text>
<line x1="25.2" x2="26.5" y1="80.7" y2="80.7" stroke="#666" stroke-width="0.3"/>
<text x="24.5" y="86.3" font-size="2.9" text-anchor="end">352</text>
<line x1="25.2" x2="26.5" y1="85.3" y2="85.3" stroke="#666" stroke-width="0.3"/>
<text x="24.5" y="90.9" font-size="2.9" text-anchor="end">351</text>
<line x1="25.2" x2="26.5" y1="89.9" y2="89.9" stroke="#666" stroke-width="0.3"/>
<text x="24.5" y="95.4" font-size="2.9" text-anchor="end">350</text>
<line x1="25.2" x2="26.5" y1="94.4" y2="94.4" stroke="#666" stroke-width="0.3"/>
<text x="24.5" y="100.0" font-size="2.9" text-anchor="end">349</text>
<line x1="25.2" x2="26.5" y1="99.0" y2="99.0" stroke="#666" stroke-width="0.3"/>
<text x="24.5" y="104.6" font-size="2.9" text-anchor="end">348</text>
<line x1="25.2" x2="26.5" y1="103.6" y2="103.6" stroke="#666" stroke-width="0.3"/>
<text x="24.5" y="109.1" font-size="2.9" text-anchor="end">347</text>
<line x1="25.2" x2="26.5" y1="108.1" y2="108.1" stroke="#666" stroke-width="0.3"/>
<text x="24.5" y="113.7" font-size="2.9" text-anchor="end">346</text>
<line x1="25.2" x2="26.5" y1="112.7" y2="112.7" stroke="#666" stroke-width="0.3"/>
<text x="24.5" y="118.2" font-size="2.9" text-anchor="end">345</text>
<line x1="25.2" x2="26.5" y1="117.2" y2="117.2" stroke="#666" stroke-width="0.3"/>
<text x="24.5" y="122.8" font-size="2.9" text-anchor="end">344</text>
<line x1="25.2" x2="26.5" y1="121.8" y2="121.8" stroke="#666" stroke-width="0.3"/>
<text x="24.5" y="127.4" font-size="2.9" text-anchor="end">343</text>
<line x1="25.2" x2="26.5" y1="126.4" y2="126.4" stroke="#666" stroke-width="0.3"/>
<text x="24.5" y="131.9" font-size="2.9" text-anchor="end">342</text>
<line x1="25.2" x2="26.5" y1="130.9" y2="130.9" stroke="#666" stroke-width="0.3"/>
<text transform="translate(15.5,98) rotate(-90)" font-size="3.1" text-anchor="middle">P85 - Outlet-Temperature-K [K]</text>
<text x="25.3" y="139.1" font-size="2.8" text-anchor="end">0.008</text>
<line x1="26.5" y1="135.5" x2="25.5" y2="136.7" stroke="#666" stroke-width="0.3"/>
<text x="49.9" y="156.2" font-size="2.8" text-anchor="end">0.0095</text>
<line x1="51.1" y1="152.6" x2="50.1" y2="153.8" stroke="#666" stroke-width="0.3"/>
<text x="74.5" y="173.2" font-size="2.8" text-anchor="end">0.01</text>
<line x1="75.7" y1="169.6" x2="74.7" y2="170.8" stroke="#666" stroke-width="0.3"/>
<text x="99.1" y="190.3" font-size="2.8" text-anchor="end">0.0105</text>
<line x1="100.3" y1="186.7" x2="99.3" y2="187.9" stroke="#666" stroke-width="0.3"/>
<text transform="translate(55,168) rotate(34.8)" font-size="3.1" text-anchor="middle">P86 - offset in Air [m]</text>
<text x="175.2" y="139.1" font-size="2.8">0.18</text>
<line x1="174.0" y1="135.5" x2="175.0" y2="136.7" stroke="#666" stroke-width="0.3"/>
<text x="156.8" y="151.9" font-size="2.8">0.16</text>
<line x1="155.6" y1="148.3" x2="156.6" y2="149.5" stroke="#666" stroke-width="0.3"/>
<text x="138.3" y="164.7" font-size="2.8">0.14</text>
<line x1="137.1" y1="161.1" x2="138.1" y2="162.3" stroke="#666" stroke-width="0.3"/>
<text x="119.9" y="177.5" font-size="2.8">0.12</text>
<line x1="118.7" y1="173.9" x2="119.7" y2="175.1" stroke="#666" stroke-width="0.3"/>
<text x="101.4" y="190.3" font-size="2.8">0.10</text>
<line x1="100.2" y1="186.7" x2="101.2" y2="187.9" stroke="#666" stroke-width="0.3"/>
<text transform="translate(146,168) rotate(-34.8)" font-size="3.1" text-anchor="middle">P86 - Cone V. [m]</text>
</g>
</g>
</svg>
<svg style="left:516px;top:233px;background:#fff" width="201" height="198" viewBox="0 0 201 198">
<defs>
<linearGradient id="g7" gradientUnits="userSpaceOnUse" x1="88" y1="68" x2="128" y2="125">
<stop offset="0" stop-color="#9696dc"/><stop offset="0.25" stop-color="#a6a6ec"/><stop offset="0.6" stop-color="#a8a8ee"/><stop offset="0.9" stop-color="#9c9ce2"/><stop offset="1" stop-color="#8e8ed2"/></linearGradient>
<linearGradient id="k7" gradientUnits="userSpaceOnUse" x1="136" y1="60" x2="150" y2="82">
<stop offset="0" stop-color="#a2a2d4"/><stop offset="0.18" stop-color="#8e8ec0"/><stop offset="0.5" stop-color="#7a7aaa"/><stop offset="0.8" stop-color="#8c8cc0"/><stop offset="1" stop-color="#a8a8de"/></linearGradient>
<clipPath id="c7"><path d="M19.6 115.0C17.8 116.0 17.4 115.2 14.3 118.0C11.2 120.8 12.1 119.3 10.2 123.3C8.3 127.3 8.8 125.2 8.7 130.0C8.6 134.8 8.4 132.4 9.8 137.7C11.2 143.0 10.1 140.5 12.8 146.0C15.5 151.5 14.0 148.7 18.0 154.2C22.0 159.7 20.0 157.5 24.8 162.5C29.6 167.5 27.3 165.5 32.4 169.3C37.5 173.1 35.2 172.0 40.0 173.8C44.8 175.6 43.4 175.4 46.7 174.8C50.0 174.2 48.9 172.9 50.0 172.0L205 58 L205 27C202.3 24.5 201.9 23.5 197.0 19.5C192.1 15.5 194.6 17.5 190.4 15.0C186.2 12.5 189.3 13.0 184.3 12.0C179.3 11.0 178.3 12.0 175.3 12.0Z"/></clipPath>
<filter id="b7" x="-5%" y="-5%" width="110%" height="110%"><feGaussianBlur stdDeviation="0.4"/></filter>
<filter id="f7" x="-50%" y="-50%" width="200%" height="200%"><feGaussianBlur stdDeviation="2"/></filter>
</defs>
<g filter="url(#b7)">
<line x1="0.0" y1="99.0" x2="13.6" y2="109.8" stroke="#1a1ab8" stroke-width="1.5" stroke-linecap="butt" opacity="1"/>
<line x1="41.6" y1="88.0" x2="43.5" y2="104.0" stroke="#1a1ab8" stroke-width="2.5" stroke-linecap="butt" opacity="1"/>
<line x1="79.6" y1="172.0" x2="96.0" y2="184.5" stroke="#1a1ab8" stroke-width="1.7" stroke-linecap="butt" opacity="1"/>
<line x1="42.8" y1="158.0" x2="45.2" y2="180.5" stroke="#1a1ab8" stroke-width="2.2" stroke-linecap="butt" opacity="1"/>
<line x1="0.0" y1="163.2" x2="18.0" y2="151.0" stroke="#1a1ab8" stroke-width="4.0" stroke-linecap="butt" opacity="1"/>
<line x1="3.6" y1="169.5" x2="23.0" y2="156.5" stroke="#1a1ab8" stroke-width="4.0" stroke-linecap="butt" opacity="1"/>
<path d="M19.6 115.0C17.8 116.0 17.4 115.2 14.3 118.0C11.2 120.8 12.1 119.3 10.2 123.3C8.3 127.3 8.8 125.2 8.7 130.0C8.6 134.8 8.4 132.4 9.8 137.7C11.2 143.0 10.1 140.5 12.8 146.0C15.5 151.5 14.0 148.7 18.0 154.2C22.0 159.7 20.0 157.5 24.8 162.5C29.6 167.5 27.3 165.5 32.4 169.3C37.5 173.1 35.2 172.0 40.0 173.8C44.8 175.6 43.4 175.4 46.7 174.8C50.0 174.2 48.9 172.9 50.0 172.0L205 58 L205 27C202.3 24.5 201.9 23.5 197.0 19.5C192.1 15.5 194.6 17.5 190.4 15.0C186.2 12.5 189.3 13.0 184.3 12.0C179.3 11.0 178.3 12.0 175.3 12.0Z" fill="url(#g7)"/>
<g clip-path="url(#c7)">
<ellipse cx="0" cy="0" rx="17" ry="33" transform="translate(31,145.5) rotate(-31)" fill="#aeaef0" opacity="0.45"/>
</g>
<line x1="13.6" y1="109.8" x2="21.7" y2="116.2" stroke="#6a6ad2" stroke-width="1.5" stroke-linecap="butt" opacity="0.85"/>
<line x1="43.4" y1="102.0" x2="44.3" y2="118.0" stroke="#4444c4" stroke-width="2.0" stroke-linecap="butt" opacity="0.8"/>
<line x1="42.8" y1="156.0" x2="43.8" y2="171.0" stroke="#5050cc" stroke-width="2.0" stroke-linecap="butt" opacity="0.75"/>
<line x1="66.9" y1="161.4" x2="79.6" y2="172.0" stroke="#7070d4" stroke-width="1.6" stroke-linecap="butt" opacity="0.85"/>
<line x1="18.0" y1="151.0" x2="31.5" y2="142.0" stroke="#4a4acc" stroke-width="4.2" stroke-linecap="butt" opacity="0.7"/>
<line x1="23.0" y1="156.5" x2="36.5" y2="147.5" stroke="#4a4acc" stroke-width="4.2" stroke-linecap="butt" opacity="0.7"/>
<line x1="19.0" y1="146.5" x2="20.8" y2="152.0" stroke="#b4b4f2" stroke-width="0.5" stroke-linecap="butt" opacity="0.8"/>
<line x1="24.0" y1="152.5" x2="25.8" y2="158.0" stroke="#b4b4f2" stroke-width="0.5" stroke-linecap="butt" opacity="0.8"/>
<line x1="21.4" y1="144.9" x2="23.2" y2="150.4" stroke="#b4b4f2" stroke-width="0.5" stroke-linecap="butt" opacity="0.8"/>
<line x1="26.4" y1="150.9" x2="28.2" y2="156.4" stroke="#b4b4f2" stroke-width="0.5" stroke-linecap="butt" opacity="0.8"/>
<line x1="23.8" y1="143.3" x2="25.6" y2="148.8" stroke="#b4b4f2" stroke-width="0.5" stroke-linecap="butt" opacity="0.8"/>
<line x1="28.8" y1="149.3" x2="30.6" y2="154.8" stroke="#b4b4f2" stroke-width="0.5" stroke-linecap="butt" opacity="0.8"/>
<line x1="26.2" y1="141.7" x2="28.0" y2="147.2" stroke="#b4b4f2" stroke-width="0.5" stroke-linecap="butt" opacity="0.8"/>
<line x1="31.2" y1="147.7" x2="33.0" y2="153.2" stroke="#b4b4f2" stroke-width="0.5" stroke-linecap="butt" opacity="0.8"/>
<line x1="28.6" y1="140.1" x2="30.4" y2="145.6" stroke="#b4b4f2" stroke-width="0.5" stroke-linecap="butt" opacity="0.8"/>
<line x1="33.6" y1="146.1" x2="35.4" y2="151.6" stroke="#b4b4f2" stroke-width="0.5" stroke-linecap="butt" opacity="0.8"/>
<line x1="31.0" y1="138.5" x2="32.8" y2="144.0" stroke="#b4b4f2" stroke-width="0.5" stroke-linecap="butt" opacity="0.8"/>
<line x1="36.0" y1="144.5" x2="37.8" y2="150.0" stroke="#b4b4f2" stroke-width="0.5" stroke-linecap="butt" opacity="0.8"/>
<g clip-path="url(#c7)">
<path d="M76.4 114.4 L176.8 24.1C178.5 23.5 177.5 21.6 182.0 22.4C186.5 23.2 185.6 21.8 190.4 26.4C195.2 31.0 194.1 29.8 196.4 36.1C198.7 42.4 197.9 39.2 197.3 45.2C196.7 51.2 196.6 49.6 194.5 54.0C192.4 58.4 192.2 57.0 191.0 58.5Z" fill="url(#k7)"/>
<path d="M176.8 24.1C178.5 23.5 177.5 21.6 182.0 22.4C186.5 23.2 185.6 21.8 190.4 26.4C195.2 31.0 194.1 29.8 196.4 36.1C198.7 42.4 197.9 39.2 197.3 45.2C196.7 51.2 196.6 49.6 194.5 54.0C192.4 58.4 192.2 57.0 191.0 58.5" fill="none" stroke="#a6a6da" stroke-width="0.9" opacity="0.9"/>
</g>
<line x1="175.3" y1="12.0" x2="191.9" y2="2.3" stroke="#f0b8a8" stroke-width="2.3" stroke-linecap="butt" opacity="0.8"/>
<line x1="175.3" y1="12.0" x2="191.9" y2="2.3" stroke="#d86858" stroke-width="0.6" stroke-linecap="butt" opacity="0.9"/>
<line x1="182.8" y1="15.8" x2="201.0" y2="6.3" stroke="#f0b8a8" stroke-width="2.3" stroke-linecap="butt" opacity="0.8"/>
<line x1="182.8" y1="15.8" x2="201.0" y2="6.3" stroke="#d86858" stroke-width="0.6" stroke-linecap="butt" opacity="0.9"/>
<line x1="190.4" y1="22.6" x2="201.0" y2="14.4" stroke="#f0b8a8" stroke-width="2.3" stroke-linecap="butt" opacity="0.8"/>
<line x1="190.4" y1="22.6" x2="201.0" y2="14.4" stroke="#d86858" stroke-width="0.6" stroke-linecap="butt" opacity="0.9"/>
<circle cx="174.5" cy="12.8" r="0.7" fill="#c838b0"/>
<circle cx="182.8" cy="15.0" r="0.7" fill="#c838b0"/>
<circle cx="191.9" cy="22.6" r="0.7" fill="#c838b0"/>
<circle cx="181.3" cy="22.6" r="0.7" fill="#c838b0"/>
<circle cx="168.5" cy="30.1" r="0.7" fill="#c838b0"/>
<circle cx="173.8" cy="27.1" r="0.7" fill="#c838b0"/>
<circle cx="198.6" cy="52.7" r="0.7" fill="#c838b0"/>
<circle cx="198.6" cy="59.5" r="0.7" fill="#c838b0"/>
<path d="M113.6 29.4 C117 36 122 41 152 48.5" fill="none" stroke="#111" stroke-width="0.8"/>
<g style="font-family:'Liberation Sans'" fill="#2c2c2c" stroke="#2c2c2c" stroke-width="0.2" font-size="10.8">
<text x="62.6" y="28.2" textLength="70" lengthAdjust="spacingAndGlyphs">Rotating cone</text>
<text x="0.7" y="91.6" textLength="38.2" lengthAdjust="spacingAndGlyphs">air inlet</text>
<text x="50.6" y="184.6" textLength="38.2" lengthAdjust="spacingAndGlyphs">air inlet</text>
</g>
</g>
</svg>
<svg style="left:728px;top:233px;background:#f3f3d9" width="202" height="198" viewBox="0 0 202 198">
<defs>
<clipPath id="c8"><path d="M26.4 128.0C28.2 126.0 27.5 127.2 31.7 122.0C35.9 116.8 34.1 120.0 38.9 112.4C43.7 104.7 41.3 108.7 46.1 99.1C51.0 89.5 48.6 93.5 53.4 83.4C58.2 73.4 55.8 77.4 60.6 69.0C65.4 60.6 63.0 64.2 67.8 58.1C72.7 52.1 70.2 54.5 75.1 50.9C79.9 47.3 76.7 49.3 82.3 47.3C87.9 45.3 85.5 46.7 91.9 44.9C98.4 43.0 95.1 44.4 101.6 41.8C108.0 39.1 104.8 39.8 111.2 36.9C117.6 34.1 114.8 34.7 120.8 33.3C126.9 32.0 124.1 32.0 129.3 32.8C134.5 33.7 132.2 32.4 136.5 36.0C140.8 39.6 138.4 37.1 142.0 43.7C145.7 50.3 143.6 46.5 147.3 55.7C151.1 65.0 149.0 60.6 153.4 71.4C157.8 82.2 155.8 77.8 160.6 88.3C165.4 98.7 163.3 93.9 167.8 102.7C172.4 111.6 172.2 110.8 174.3 114.8C169.4 117.6 169.2 117.2 159.4 123.2C149.6 129.2 154.6 126.0 144.9 132.8C135.3 139.7 140.1 136.1 130.5 143.7C120.8 151.3 125.8 148.1 116.0 155.7C106.2 163.4 106.1 163.0 101.1 166.6C98.4 163.8 98.6 164.2 93.1 158.1C87.7 152.1 89.9 154.1 84.7 148.5C79.5 142.9 81.1 144.7 77.5 141.3C73.9 137.8 75.1 139.2 73.9 138.1C71.0 139.2 71.4 139.8 65.4 141.3C59.4 142.7 62.2 142.5 55.8 142.5C49.4 142.5 52.2 143.0 46.1 141.3C40.1 139.5 42.9 140.4 37.7 137.2C32.5 134.0 34.3 134.7 30.5 131.6C26.7 128.6 27.8 129.2 26.4 128.0Z"/></clipPath>
<filter id="f8a" x="-50%" y="-50%" width="200%" height="200%"><feGaussianBlur stdDeviation="4.5"/></filter>
<filter id="f8b" x="-50%" y="-50%" width="200%" height="200%"><feGaussianBlur stdDeviation="3"/></filter>
<filter id="f8c" x="-50%" y="-50%" width="200%" height="200%"><feGaussianBlur stdDeviation="2.2"/></filter>
<filter id="f8d" x="-50%" y="-50%" width="200%" height="200%"><feGaussianBlur stdDeviation="1.5"/></filter>
<filter id="b8" x="-5%" y="-5%" width="110%" height="110%"><feGaussianBlur stdDeviation="0.35"/></filter>
</defs>
<g filter="url(#b8)">
<line x1="88.0" y1="17.5" x2="88.0" y2="92.8" stroke="#d6d6c2" stroke-width="0.35"/>
<line x1="112.6" y1="17.5" x2="112.6" y2="92.8" stroke="#d6d6c2" stroke-width="0.35"/>
<line x1="88.0" y1="92.8" x2="161.8" y2="144.0" stroke="#d6d6c2" stroke-width="0.35"/>
<line x1="112.6" y1="92.8" x2="38.8" y2="144.0" stroke="#d6d6c2" stroke-width="0.35"/>
<line x1="75.7" y1="26.1" x2="75.7" y2="101.4" stroke="#d6d6c2" stroke-width="0.35"/>
<line x1="124.9" y1="26.1" x2="124.9" y2="101.4" stroke="#d6d6c2" stroke-width="0.35"/>
<line x1="75.7" y1="101.4" x2="149.5" y2="152.6" stroke="#d6d6c2" stroke-width="0.35"/>
<line x1="124.9" y1="101.4" x2="51.1" y2="152.6" stroke="#d6d6c2" stroke-width="0.35"/>
<line x1="63.4" y1="34.6" x2="63.4" y2="109.9" stroke="#d6d6c2" stroke-width="0.35"/>
<line x1="137.2" y1="34.6" x2="137.2" y2="109.9" stroke="#d6d6c2" stroke-width="0.35"/>
<line x1="63.4" y1="109.9" x2="137.2" y2="161.1" stroke="#d6d6c2" stroke-width="0.35"/>
<line x1="137.2" y1="109.9" x2="63.4" y2="161.1" stroke="#d6d6c2" stroke-width="0.35"/>
<line x1="51.1" y1="43.1" x2="51.1" y2="118.4" stroke="#d6d6c2" stroke-width="0.35"/>
<line x1="149.5" y1="43.1" x2="149.5" y2="118.4" stroke="#d6d6c2" stroke-width="0.35"/>
<line x1="51.1" y1="118.4" x2="124.9" y2="169.6" stroke="#d6d6c2" stroke-width="0.35"/>
<line x1="149.5" y1="118.4" x2="75.7" y2="169.6" stroke="#d6d6c2" stroke-width="0.35"/>
<line x1="38.8" y1="51.7" x2="38.8" y2="127.0" stroke="#d6d6c2" stroke-width="0.35"/>
<line x1="161.8" y1="51.7" x2="161.8" y2="127.0" stroke="#d6d6c2" stroke-width="0.35"/>
<line x1="38.8" y1="127.0" x2="112.6" y2="178.2" stroke="#d6d6c2" stroke-width="0.35"/>
<line x1="161.8" y1="127.0" x2="88.0" y2="178.2" stroke="#d6d6c2" stroke-width="0.35"/>
<line x1="26.5" y1="60.2" x2="26.5" y2="135.5" stroke="#d6d6c2" stroke-width="0.35"/>
<line x1="174.1" y1="60.2" x2="174.1" y2="135.5" stroke="#d6d6c2" stroke-width="0.35"/>
<line x1="26.5" y1="135.5" x2="100.3" y2="186.7" stroke="#d6d6c2" stroke-width="0.35"/>
<line x1="174.1" y1="135.5" x2="100.3" y2="186.7" stroke="#d6d6c2" stroke-width="0.35"/>
<line x1="100.3" y1="9.0" x2="26.5" y2="60.2" stroke="#d6d6c2" stroke-width="0.35"/>
<line x1="100.3" y1="9.0" x2="174.1" y2="60.2" stroke="#d6d6c2" stroke-width="0.35"/>
<line x1="100.3" y1="19.8" x2="26.5" y2="71.0" stroke="#d6d6c2" stroke-width="0.35"/>
<line x1="100.3" y1="19.8" x2="174.1" y2="71.0" stroke="#d6d6c2" stroke-width="0.35"/>
<line x1="100.3" y1="30.5" x2="26.5" y2="81.7" stroke="#d6d6c2" stroke-width="0.35"/>
<line x1="100.3" y1="30.5" x2="174.1" y2="81.7" stroke="#d6d6c2" stroke-width="0.35"/>
<line x1="100.3" y1="41.3" x2="26.5" y2="92.5" stroke="#d6d6c2" stroke-width="0.35"/>
<line x1="100.3" y1="41.3" x2="174.1" y2="92.5" stroke="#d6d6c2" stroke-width="0.35"/>
<line x1="100.3" y1="52.0" x2="26.5" y2="103.2" stroke="#d6d6c2" stroke-width="0.35"/>
<line x1="100.3" y1="52.0" x2="174.1" y2="103.2" stroke="#d6d6c2" stroke-width="0.35"/>
<line x1="100.3" y1="62.8" x2="26.5" y2="114.0" stroke="#d6d6c2" stroke-width="0.35"/>
<line x1="100.3" y1="62.8" x2="174.1" y2="114.0" stroke="#d6d6c2" stroke-width="0.35"/>
<line x1="100.3" y1="73.5" x2="26.5" y2="124.7" stroke="#d6d6c2" stroke-width="0.35"/>
<line x1="100.3" y1="73.5" x2="174.1" y2="124.7" stroke="#d6d6c2" stroke-width="0.35"/>
<line x1="100.3" y1="84.3" x2="26.5" y2="135.5" stroke="#d6d6c2" stroke-width="0.35"/>
<line x1="100.3" y1="84.3" x2="174.1" y2="135.5" stroke="#d6d6c2" stroke-width="0.35"/>
<line x1="100.3" y1="9.0" x2="100.3" y2="43.0" stroke="#14142a" stroke-width="1.1"/>
<line x1="26.5" y1="135.5" x2="31.0" y2="132.4" stroke="#14142a" stroke-width="1.1"/>
<line x1="174.0" y1="135.5" x2="157.0" y2="123.5" stroke="#14142a" stroke-width="1.1"/>
<g clip-path="url(#c8)">
<rect x="0" y="0" width="202" height="198" fill="#22e288"/>
<path d="M82.3 156.9C85.3 147.3 88.2 147.3 101.1 147.3C113.9 147.3 117.5 147.3 120.8 156.9C124.2 166.6 120.8 169.8 111.2 176.2C101.6 182.6 101.6 182.6 91.9 176.2C82.3 169.8 79.2 166.6 82.3 156.9Z" fill="#20e2b4" filter="url(#f8b)" opacity="1"/>
<path d="M24.5 123.2C41.3 122.2 28.5 123.1 36.5 115.5C44.5 107.9 38.1 105.9 48.6 100.3C59.0 94.7 54.2 97.8 67.8 98.6C81.5 99.4 76.7 100.0 89.5 102.7C102.4 105.5 95.1 103.8 106.4 106.8C117.6 109.8 110.4 108.4 123.3 111.6C136.1 114.9 126.5 114.9 144.9 116.5C163.4 118.1 159.4 123.8 178.7 116.5C198.0 109.1 194.7 133.8 202.8 94.3C210.8 54.8 275.1 30.0 202.8 -2.1C130.5 -34.2 58.2 -42.3 -14.1 -2.1C-86.4 38.1 -26.9 76.6 -14.1 118.4C-1.2 160.2 7.6 124.2 24.5 123.2Z" fill="#22d83a" filter="url(#f8b)" opacity="1"/>
<path d="M55.8 82.2C60.2 90.7 55.8 79.8 59.4 76.2C63.0 72.6 59.8 72.2 66.6 71.4C73.5 70.6 69.8 71.3 79.9 73.8C89.9 76.3 84.7 75.6 96.7 78.9C108.8 82.2 103.2 81.6 116.0 83.7C128.9 85.8 120.4 85.2 135.3 85.1C150.2 85.1 144.5 84.4 160.6 83.4C176.7 82.5 169.4 78.6 183.5 82.2C197.6 85.9 196.3 122.4 202.8 94.3C209.2 66.2 275.1 30.0 202.8 -2.1C130.5 -34.2 42.1 -2.1 -14.1 -2.1C-70.3 -2.1 14.0 -19.8 34.1 -2.1C54.2 15.6 38.9 22.8 46.1 50.9C53.4 79.0 51.4 73.8 55.8 82.2Z" fill="#a8ec28" filter="url(#f8b)" opacity="1"/>
<path d="M64.2 66.6C67.4 72.4 64.9 65.3 67.8 63.4C70.8 61.6 67.5 60.7 73.1 61.0C78.8 61.4 75.2 61.4 84.7 64.4C94.2 67.5 90.3 66.5 101.6 70.2C112.8 73.9 106.4 73.2 118.4 75.5C130.5 77.7 124.9 76.9 137.7 76.9C150.6 76.9 141.7 76.5 157.0 75.5C172.2 74.4 168.2 67.5 183.5 73.8C198.8 80.1 196.3 119.6 202.8 94.3C209.2 69.0 275.1 30.0 202.8 -2.1C130.5 -34.2 38.1 -2.1 -14.1 -2.1C-66.3 -2.1 22.0 -18.2 46.1 -2.1C70.2 14.0 52.2 23.2 58.2 46.1C64.2 69.0 61.0 60.8 64.2 66.6Z" fill="#f2f226" filter="url(#f8b)" opacity="1"/>
<path d="M91.9 46.1C94.3 62.6 94.3 44.3 99.2 47.3C104.0 50.3 100.0 50.4 106.4 55.0C112.8 59.6 109.6 58.6 118.4 61.0C127.3 63.4 124.1 62.6 132.9 62.2C141.7 61.8 137.7 61.2 144.9 59.8C152.2 58.5 141.7 59.5 154.6 58.1C167.4 56.8 173.9 75.8 183.5 55.7C193.1 35.7 214.0 17.2 183.5 -2.1C153.0 -21.4 122.4 -18.2 91.9 -2.1C61.4 14.0 89.5 29.6 91.9 46.1Z" fill="#f8a41e" filter="url(#f8b)" opacity="1"/>
<path d="M106.4 38.9C99.3 48.5 106.1 38.3 109.3 41.3C112.5 44.2 110.6 44.4 116.0 47.8C121.5 51.2 118.4 50.6 125.7 51.4C132.9 52.2 130.9 52.0 137.7 50.2C144.5 48.4 138.9 50.7 146.1 46.1C153.4 41.5 164.6 47.7 159.4 36.5C154.2 25.2 148.2 11.6 130.5 12.4C112.8 13.2 113.5 29.2 106.4 38.9Z" fill="#ea2a18" filter="url(#f8c)" opacity="1"/>
<path d="M117.2 36.5C116.8 40.5 117.6 39.9 122.0 42.5C126.5 45.1 124.9 44.6 130.5 44.2C136.1 43.8 136.5 45.5 138.9 41.3C141.3 37.1 142.9 35.3 137.7 31.6C132.5 28.0 130.1 28.8 123.3 30.4C116.4 32.0 117.6 32.4 117.2 36.5Z" fill="#dc1614" filter="url(#f8d)" opacity="1"/>
<path d="M24.5 118.4C26.9 113.4 28.5 115.1 36.5 110.7C44.5 106.3 38.1 107.4 48.6 105.1C59.0 102.9 55.0 103.4 67.8 103.9C80.7 104.5 75.5 103.8 87.1 106.8C98.8 109.9 100.4 108.3 102.8 113.1C105.2 117.9 102.8 117.7 94.3 121.3C85.9 124.8 89.5 123.3 77.5 123.7C65.4 124.1 70.2 122.5 58.2 122.5C46.1 122.5 51.0 122.6 41.3 123.7C31.7 124.7 34.9 127.4 29.3 125.6C23.7 123.8 22.0 123.4 24.5 118.4Z" fill="#18e0d4" filter="url(#f8b)" opacity="1"/>
<path d="M19.6 128.0C21.2 122.6 24.5 124.2 34.1 121.3C43.7 118.4 37.3 119.3 48.6 119.3C59.8 119.3 55.0 119.6 67.8 121.3C80.7 123.0 78.7 121.8 87.1 124.4C95.5 127.1 94.7 125.2 93.1 129.2C91.5 133.2 89.9 131.2 82.3 136.5C74.7 141.7 82.3 141.3 70.2 144.9C58.2 148.5 59.8 149.7 46.1 147.3C32.5 144.9 38.1 144.1 29.3 137.7C20.4 131.2 18.0 133.5 19.6 128.0Z" fill="#1c62d2" filter="url(#f8b)" opacity="1"/>
<path d="M34.1 131.6C37.3 127.8 39.7 128.9 51.0 128.5C62.2 128.1 57.4 128.8 67.8 130.4C78.3 132.0 79.5 130.5 82.3 133.3C85.1 136.1 84.3 135.4 76.3 138.9C68.2 142.3 69.8 143.3 58.2 143.7C46.5 144.1 49.4 144.1 41.3 140.1C33.3 136.1 30.9 135.5 34.1 131.6Z" fill="#1222aa" filter="url(#f8c)" opacity="1"/>
<ellipse cx="0" cy="0" rx="21" ry="5" transform="translate(100.4,128.5) rotate(-24)" fill="#0a3a24" filter="url(#f8b)" opacity="0.55"/>
<ellipse cx="0" cy="0" rx="11" ry="4.5" transform="translate(106.4,125.6) rotate(-20)" fill="#06170f" filter="url(#f8c)" opacity="0.85"/>
<path d="M67.8 58.1C70.2 55.7 70.2 54.5 75.1 50.9C79.9 47.3 76.7 49.3 82.3 47.3C87.9 45.3 85.5 46.7 91.9 44.9C98.4 43.0 95.1 44.4 101.6 41.8C108.0 39.1 108.0 38.5 111.2 36.9" fill="none" stroke="#3a4a18" stroke-width="4.5" filter="url(#f8d)" opacity="0.8"/>
</g>
<g style="font-family:'Liberation Sans'" fill="#3c3c3c">
<text x="100" y="4" font-size="3.2" text-anchor="middle">Response Chart for P85 - Total-Heat-Generation-W</text>
<text x="195.5" y="10.5" font-size="2.4">P8</text>
<text x="24.5" y="67.0" font-size="2.9" text-anchor="end">1.079</text>
<line x1="25.2" x2="26.5" y1="66.0" y2="66.0" stroke="#666" stroke-width="0.3"/>
<text x="24.5" y="78.6" font-size="2.9" text-anchor="end">1.078</text>
<line x1="25.2" x2="26.5" y1="77.6" y2="77.6" stroke="#666" stroke-width="0.3"/>
<text x="24.5" y="90.2" font-size="2.9" text-anchor="end">1.077</text>
<line x1="25.2" x2="26.5" y1="89.2" y2="89.2" stroke="#666" stroke-width="0.3"/>
<text x="24.5" y="101.7" font-size="2.9" text-anchor="end">1.076</text>
<line x1="25.2" x2="26.5" y1="100.7" y2="100.7" stroke="#666" stroke-width="0.3"/>
<text x="24.5" y="113.3" font-size="2.9" text-anchor="end">1.075</text>
<line x1="25.2" x2="26.5" y1="112.3" y2="112.3" stroke="#666" stroke-width="0.3"/>
<text x="24.5" y="124.9" font-size="2.9" text-anchor="end">1.074</text>
<line x1="25.2" x2="26.5" y1="123.9" y2="123.9" stroke="#666" stroke-width="0.3"/>
<text transform="translate(15.5,98) rotate(-90)" font-size="3.1" text-anchor="middle">P85 - Total-Heat-Generation-W [x10^5] [W]</text>
<text x="25.3" y="139.1" font-size="2.8" text-anchor="end">100</text>
<line x1="26.5" y1="135.5" x2="25.5" y2="136.7" stroke="#666" stroke-width="0.3"/>
<text x="37.6" y="147.6" font-size="2.8" text-anchor="end">150</text>
<line x1="38.8" y1="144.0" x2="37.8" y2="145.2" stroke="#666" stroke-width="0.3"/>
<text x="49.9" y="156.2" font-size="2.8" text-anchor="end">200</text>
<line x1="51.1" y1="152.6" x2="50.1" y2="153.8" stroke="#666" stroke-width="0.3"/>
<text x="62.2" y="164.7" font-size="2.8" text-anchor="end">250</text>
<line x1="63.4" y1="161.1" x2="62.4" y2="162.3" stroke="#666" stroke-width="0.3"/>
<text x="74.5" y="173.2" font-size="2.8" text-anchor="end">300</text>
<line x1="75.7" y1="169.6" x2="74.7" y2="170.8" stroke="#666" stroke-width="0.3"/>
<text x="86.8" y="181.8" font-size="2.8" text-anchor="end">350</text>
<line x1="88.0" y1="178.2" x2="87.0" y2="179.4" stroke="#666" stroke-width="0.3"/>
<text x="99.1" y="190.3" font-size="2.8" text-anchor="end">400</text>
<line x1="100.3" y1="186.7" x2="99.3" y2="187.9" stroke="#666" stroke-width="0.3"/>
<text transform="translate(55,168) rotate(34.8)" font-size="3.1" text-anchor="middle">P81 - Cone Ang.vel. [radian s^-1]</text>
<text x="175.2" y="139.1" font-size="2.8">0.1</text>
<line x1="174.0" y1="135.5" x2="175.0" y2="136.7" stroke="#666" stroke-width="0.3"/>
<text x="156.8" y="151.9" font-size="2.8">0.105</text>
<line x1="155.6" y1="148.3" x2="156.6" y2="149.5" stroke="#666" stroke-width="0.3"/>
<text x="138.3" y="164.7" font-size="2.8">0.11</text>
<line x1="137.1" y1="161.1" x2="138.1" y2="162.3" stroke="#666" stroke-width="0.3"/>
<text x="119.9" y="177.5" font-size="2.8">0.115</text>
<line x1="118.7" y1="173.9" x2="119.7" y2="175.1" stroke="#666" stroke-width="0.3"/>
<text x="101.4" y="190.3" font-size="2.8">0.12</text>
<line x1="100.2" y1="186.7" x2="101.2" y2="187.9" stroke="#666" stroke-width="0.3"/>
<text transform="translate(146,168) rotate(-34.8)" font-size="3.1" text-anchor="middle">P84 - Outlet Dia. [m]</text>
</g>
</g>
</svg>
<svg id="main" width="1020" height="664" viewBox="0 0 1020 664">
<g font-family="Liberation Serif" font-weight="bold" font-size="68.2" fill="#222" stroke="#b9eab9" stroke-width="0.8">
<text transform="translate(127.53,487.10) scale(0.8667,1)">D</text>
<text transform="translate(168.16,487.10) scale(0.8809,1)">O</text>
<text transform="translate(214.98,487.10) scale(0.8220,1)">E</text>
<text transform="translate(254.00,487.10) scale(0.6800,1)">,</text>
<text transform="translate(281.78,487.10) scale(0.8245,1)">R</text>
<text transform="translate(321.98,487.10) scale(0.8727,1)">S</text>
<text transform="translate(355.24,487.10) scale(0.8565,1)">M</text>
<text transform="translate(426.85,487.10) scale(0.8176,1)">&amp;</text>
<text transform="translate(485.21,487.10) scale(0.8638,1)">O</text>
<text transform="translate(530.48,487.10) scale(0.9231,1)">P</text>
<text transform="translate(567.28,487.10) scale(0.8205,1)">T</text>
<text transform="translate(605.54,487.10) scale(0.8304,1)">I</text>
<text transform="translate(628.14,487.10) scale(0.8581,1)">M</text>
<text transform="translate(682.64,487.10) scale(0.8304,1)">I</text>
<text transform="translate(702.93,487.10) scale(0.8575,1)">Z</text>
<text transform="translate(741.10,487.10) scale(0.7653,1)">A</text>
<text transform="translate(779.96,487.10) scale(0.8409,1)">T</text>
<text transform="translate(817.84,487.10) scale(0.8783,1)">I</text>
<text transform="translate(839.96,487.10) scale(0.8787,1)">O</text>
<text transform="translate(885.24,487.10) scale(0.8562,1)">N</text>
<text transform="translate(236.67,554.70) scale(0.8273,1)">T</text>
<text transform="translate(275.79,554.70) scale(0.8102,1)">R</text>
<text transform="translate(314.90,554.70) scale(0.7959,1)">A</text>
<text transform="translate(352.95,554.70) scale(0.8261,1)">I</text>
<text transform="translate(374.96,554.70) scale(0.8437,1)">N</text>
<text transform="translate(417.64,554.70) scale(0.8304,1)">I</text>
<text transform="translate(439.64,554.70) scale(0.8625,1)">N</text>
<text transform="translate(483.02,554.70) scale(0.8265,1)">G</text>
<text transform="translate(542.80,554.70) scale(0.9026,1)">P</text>
<text transform="translate(579.00,554.70) scale(0.8082,1)">A</text>
<text transform="translate(617.36,554.70) scale(0.8452,1)">C</text>
<text transform="translate(657.27,554.70) scale(0.8250,1)">K</text>
<text transform="translate(700.80,554.70) scale(0.7837,1)">A</text>
<text transform="translate(737.42,554.70) scale(0.8265,1)">G</text>
<text transform="translate(781.78,554.70) scale(0.8220,1)">E</text>
</g>
<rect x="93" y="585" width="834" height="5" fill="#242424"/>
<g font-family="Liberation Sans" font-size="16.3" fill="#2c2c2c" letter-spacing="0.9">
<text x="65.7" y="636.1" textLength="74.9" lengthAdjust="spacingAndGlyphs">GENETIC</text>
<text x="145.0" y="636.1" textLength="99.9" lengthAdjust="spacingAndGlyphs">ALGORITHM</text>
<text x="250.0" y="636.1" textLength="34.3" lengthAdjust="spacingAndGlyphs">FOR</text>
<text x="289.0" y="636.1" textLength="61.9" lengthAdjust="spacingAndGlyphs">DIRECT</text>
<text x="355.0" y="636.1" textLength="34.9" lengthAdjust="spacingAndGlyphs">AND</text>
<text x="394.0" y="636.1" textLength="78.3" lengthAdjust="spacingAndGlyphs">INDIRECT</text>
<text x="478.0" y="636.1" textLength="120.3" lengthAdjust="spacingAndGlyphs">OPTIMIZATION</text>
<text x="604.0" y="636.1" textLength="24.9" lengthAdjust="spacingAndGlyphs">OF</text>
<text x="634.0" y="636.1" textLength="13.3" lengthAdjust="spacingAndGlyphs">A</text>
<text x="650.7" y="636.1" textLength="67.6" lengthAdjust="spacingAndGlyphs">VORTEX</text>
<text x="725.0" y="636.1" textLength="53.3" lengthAdjust="spacingAndGlyphs">FLAME</text>
<text x="785.0" y="636.1" textLength="114.9" lengthAdjust="spacingAndGlyphs">COMBUSTION</text>
<text x="905.0" y="636.1" textLength="81.6" lengthAdjust="spacingAndGlyphs">CHAMBER</text>
<text x="297.3" y="659.2" textLength="22.6" lengthAdjust="spacingAndGlyphs">BY</text>
<text x="324.7" y="659.2" textLength="54.2" lengthAdjust="spacingAndGlyphs">USING</text>
<text x="385.0" y="659.2" textLength="29.9" lengthAdjust="spacingAndGlyphs">THE</text>
<text x="419.7" y="659.2" textLength="65.9" lengthAdjust="spacingAndGlyphs">DESIGN</text>
<text x="490.7" y="659.2" textLength="24.2" lengthAdjust="spacingAndGlyphs">OF</text>
<text x="520.7" y="659.2" textLength="103.6" lengthAdjust="spacingAndGlyphs">EXPERIMENT</text>
<text x="629.0" y="659.2" textLength="71.9" lengthAdjust="spacingAndGlyphs">METHOD</text>
<text x="707.3" y="659.2" textLength="50.3" lengthAdjust="spacingAndGlyphs">(DOE)</text>
</g>
</svg>
</body></html>
